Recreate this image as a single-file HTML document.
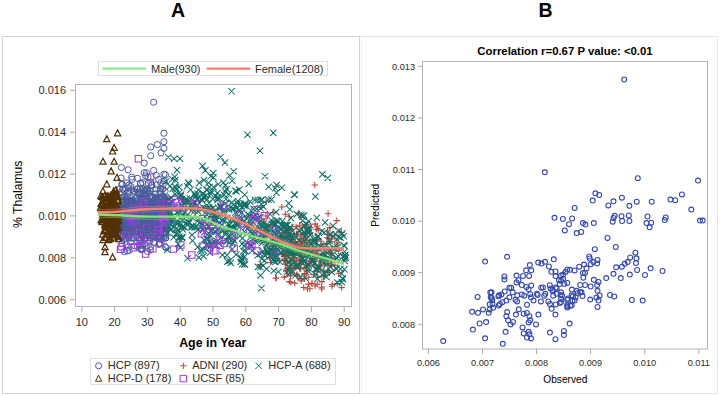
<!DOCTYPE html>
<html><head><meta charset="utf-8"><style>
html,body{margin:0;padding:0;background:#fff;}
svg{display:block;font-family:"Liberation Sans", sans-serif;}
</style></head><body>
<svg width="720" height="396" viewBox="0 0 720 396">
<rect width="720" height="396" fill="#fff"/>
<text x="178" y="17.4" font-size="19.5" font-weight="bold" text-anchor="middle" fill="#000">A</text>
<text x="545.5" y="17.4" font-size="19.5" font-weight="bold" text-anchor="middle" fill="#000">B</text>
<rect x="2.5" y="36.5" width="357" height="357" fill="none" stroke="#d2d2d2" stroke-width="1"/>
<path d="M360 36.5 H717.5 V393.5 H360" fill="none" stroke="#e4e4e4" stroke-width="1"/><path d="M361.5 36.5 V393.5" fill="none" stroke="#f2f2f2" stroke-width="1"/>
<rect x="75.5" y="84.5" width="276" height="222" fill="none" stroke="#b4b4b4" stroke-width="1"/>
<line x1="70" y1="90.3" x2="75.5" y2="90.3" stroke="#aaaaaa" stroke-width="1"/>
<text x="66" y="94.3" font-size="11" text-anchor="end" fill="#2a2a2a">0.016</text>
<line x1="70" y1="132.2" x2="75.5" y2="132.2" stroke="#aaaaaa" stroke-width="1"/>
<text x="66" y="136.2" font-size="11" text-anchor="end" fill="#2a2a2a">0.014</text>
<line x1="70" y1="174.1" x2="75.5" y2="174.1" stroke="#aaaaaa" stroke-width="1"/>
<text x="66" y="178.1" font-size="11" text-anchor="end" fill="#2a2a2a">0.012</text>
<line x1="70" y1="215.9" x2="75.5" y2="215.9" stroke="#aaaaaa" stroke-width="1"/>
<text x="66" y="219.9" font-size="11" text-anchor="end" fill="#2a2a2a">0.010</text>
<line x1="70" y1="257.8" x2="75.5" y2="257.8" stroke="#aaaaaa" stroke-width="1"/>
<text x="66" y="261.8" font-size="11" text-anchor="end" fill="#2a2a2a">0.008</text>
<line x1="70" y1="299.7" x2="75.5" y2="299.7" stroke="#aaaaaa" stroke-width="1"/>
<text x="66" y="303.7" font-size="11" text-anchor="end" fill="#2a2a2a">0.006</text>
<line x1="81.8" y1="306.5" x2="81.8" y2="312" stroke="#aaaaaa" stroke-width="1"/>
<text x="81.8" y="326" font-size="11" text-anchor="middle" fill="#2a2a2a">10</text>
<line x1="114.6" y1="306.5" x2="114.6" y2="312" stroke="#aaaaaa" stroke-width="1"/>
<text x="114.6" y="326" font-size="11" text-anchor="middle" fill="#2a2a2a">20</text>
<line x1="147.4" y1="306.5" x2="147.4" y2="312" stroke="#aaaaaa" stroke-width="1"/>
<text x="147.4" y="326" font-size="11" text-anchor="middle" fill="#2a2a2a">30</text>
<line x1="180.2" y1="306.5" x2="180.2" y2="312" stroke="#aaaaaa" stroke-width="1"/>
<text x="180.2" y="326" font-size="11" text-anchor="middle" fill="#2a2a2a">40</text>
<line x1="213.0" y1="306.5" x2="213.0" y2="312" stroke="#aaaaaa" stroke-width="1"/>
<text x="213.0" y="326" font-size="11" text-anchor="middle" fill="#2a2a2a">50</text>
<line x1="245.8" y1="306.5" x2="245.8" y2="312" stroke="#aaaaaa" stroke-width="1"/>
<text x="245.8" y="326" font-size="11" text-anchor="middle" fill="#2a2a2a">60</text>
<line x1="278.6" y1="306.5" x2="278.6" y2="312" stroke="#aaaaaa" stroke-width="1"/>
<text x="278.6" y="326" font-size="11" text-anchor="middle" fill="#2a2a2a">70</text>
<line x1="311.4" y1="306.5" x2="311.4" y2="312" stroke="#aaaaaa" stroke-width="1"/>
<text x="311.4" y="326" font-size="11" text-anchor="middle" fill="#2a2a2a">80</text>
<line x1="344.2" y1="306.5" x2="344.2" y2="312" stroke="#aaaaaa" stroke-width="1"/>
<text x="344.2" y="326" font-size="11" text-anchor="middle" fill="#2a2a2a">90</text>
<text x="212.8" y="347" font-size="12.4" font-weight="bold" text-anchor="middle" fill="#000">Age in Year</text>
<text transform="translate(22,194.3) rotate(-90)" font-size="12.2" text-anchor="middle" fill="#000">% Thalamus</text>
<rect x="98.5" y="61.5" width="229" height="14" fill="#fff" stroke="#dedede" stroke-width="1"/>
<line x1="102.5" y1="68.7" x2="146" y2="68.7" stroke="#8ee88c" stroke-width="2.2"/>
<text x="151" y="72.5" font-size="11" fill="#2a2a2a">Male(930)</text>
<line x1="206.7" y1="68.7" x2="250.3" y2="68.7" stroke="#f27e70" stroke-width="2.2"/>
<text x="255" y="72.5" font-size="11" fill="#2a2a2a">Female(1208)</text>
<g fill="none" stroke="#4a5b9c" stroke-width="1"><circle cx="140.3" cy="228.4" r="3.1"/><circle cx="142.9" cy="209.6" r="3.1"/><circle cx="127.7" cy="200.8" r="3.1"/><circle cx="123.4" cy="199.8" r="3.1"/><circle cx="123.3" cy="214.7" r="3.1"/><circle cx="165.2" cy="246.5" r="3.1"/><circle cx="147.9" cy="212.6" r="3.1"/><circle cx="119.7" cy="223.6" r="3.1"/><circle cx="130.4" cy="219.0" r="3.1"/><circle cx="140.8" cy="224.3" r="3.1"/><circle cx="149.1" cy="203.4" r="3.1"/><circle cx="150.1" cy="208.3" r="3.1"/><circle cx="165.8" cy="238.0" r="3.1"/><circle cx="152.3" cy="217.3" r="3.1"/><circle cx="122.3" cy="226.2" r="3.1"/><circle cx="137.8" cy="192.2" r="3.1"/><circle cx="158.8" cy="236.6" r="3.1"/><circle cx="128.9" cy="185.1" r="3.1"/><circle cx="165.1" cy="231.8" r="3.1"/><circle cx="155.6" cy="223.8" r="3.1"/><circle cx="123.1" cy="236.5" r="3.1"/><circle cx="124.5" cy="211.3" r="3.1"/><circle cx="123.7" cy="218.3" r="3.1"/><circle cx="145.3" cy="208.5" r="3.1"/><circle cx="128.0" cy="228.2" r="3.1"/><circle cx="124.5" cy="229.2" r="3.1"/><circle cx="129.0" cy="238.0" r="3.1"/><circle cx="133.3" cy="211.9" r="3.1"/><circle cx="128.9" cy="226.9" r="3.1"/><circle cx="123.7" cy="239.4" r="3.1"/><circle cx="131.1" cy="201.8" r="3.1"/><circle cx="134.5" cy="220.9" r="3.1"/><circle cx="146.4" cy="218.4" r="3.1"/><circle cx="147.3" cy="189.0" r="3.1"/><circle cx="141.7" cy="225.2" r="3.1"/><circle cx="159.7" cy="231.5" r="3.1"/><circle cx="157.4" cy="238.0" r="3.1"/><circle cx="127.9" cy="223.7" r="3.1"/><circle cx="163.7" cy="213.0" r="3.1"/><circle cx="147.4" cy="218.8" r="3.1"/><circle cx="164.2" cy="218.1" r="3.1"/><circle cx="152.1" cy="223.5" r="3.1"/><circle cx="132.8" cy="200.9" r="3.1"/><circle cx="152.9" cy="218.2" r="3.1"/><circle cx="159.1" cy="231.9" r="3.1"/><circle cx="132.2" cy="179.3" r="3.1"/><circle cx="119.8" cy="211.8" r="3.1"/><circle cx="127.3" cy="217.5" r="3.1"/><circle cx="145.9" cy="199.0" r="3.1"/><circle cx="165.1" cy="236.0" r="3.1"/><circle cx="151.5" cy="218.1" r="3.1"/><circle cx="119.8" cy="188.9" r="3.1"/><circle cx="164.3" cy="218.6" r="3.1"/><circle cx="148.9" cy="214.7" r="3.1"/><circle cx="166.0" cy="205.1" r="3.1"/><circle cx="144.7" cy="232.5" r="3.1"/><circle cx="152.1" cy="204.0" r="3.1"/><circle cx="162.0" cy="205.3" r="3.1"/><circle cx="159.9" cy="191.3" r="3.1"/><circle cx="156.2" cy="200.3" r="3.1"/><circle cx="137.0" cy="208.3" r="3.1"/><circle cx="147.6" cy="190.7" r="3.1"/><circle cx="160.4" cy="189.0" r="3.1"/><circle cx="137.3" cy="204.2" r="3.1"/><circle cx="158.4" cy="209.4" r="3.1"/><circle cx="154.3" cy="204.5" r="3.1"/><circle cx="129.8" cy="207.5" r="3.1"/><circle cx="142.4" cy="224.4" r="3.1"/><circle cx="119.5" cy="211.4" r="3.1"/><circle cx="150.9" cy="229.1" r="3.1"/><circle cx="150.0" cy="238.0" r="3.1"/><circle cx="160.9" cy="211.8" r="3.1"/><circle cx="139.3" cy="208.8" r="3.1"/><circle cx="162.0" cy="203.6" r="3.1"/><circle cx="133.9" cy="227.0" r="3.1"/><circle cx="142.3" cy="227.5" r="3.1"/><circle cx="163.7" cy="200.0" r="3.1"/><circle cx="126.9" cy="214.6" r="3.1"/><circle cx="138.5" cy="224.6" r="3.1"/><circle cx="142.2" cy="234.8" r="3.1"/><circle cx="140.3" cy="189.0" r="3.1"/><circle cx="120.5" cy="235.0" r="3.1"/><circle cx="145.8" cy="221.1" r="3.1"/><circle cx="156.2" cy="225.0" r="3.1"/><circle cx="120.2" cy="226.4" r="3.1"/><circle cx="130.2" cy="232.8" r="3.1"/><circle cx="140.0" cy="221.1" r="3.1"/><circle cx="149.8" cy="234.3" r="3.1"/><circle cx="128.4" cy="211.1" r="3.1"/><circle cx="127.4" cy="196.5" r="3.1"/><circle cx="127.4" cy="219.4" r="3.1"/><circle cx="135.2" cy="198.9" r="3.1"/><circle cx="154.5" cy="213.8" r="3.1"/><circle cx="156.2" cy="175.4" r="3.1"/><circle cx="162.8" cy="225.4" r="3.1"/><circle cx="148.4" cy="183.3" r="3.1"/><circle cx="145.7" cy="226.0" r="3.1"/><circle cx="156.4" cy="185.0" r="3.1"/><circle cx="149.6" cy="212.0" r="3.1"/><circle cx="149.2" cy="193.3" r="3.1"/><circle cx="129.0" cy="238.0" r="3.1"/><circle cx="144.2" cy="211.8" r="3.1"/><circle cx="134.1" cy="191.1" r="3.1"/><circle cx="135.4" cy="201.3" r="3.1"/><circle cx="155.1" cy="221.7" r="3.1"/><circle cx="120.3" cy="236.6" r="3.1"/><circle cx="127.1" cy="224.8" r="3.1"/><circle cx="156.0" cy="225.0" r="3.1"/><circle cx="153.0" cy="228.1" r="3.1"/><circle cx="151.4" cy="185.5" r="3.1"/><circle cx="163.6" cy="218.7" r="3.1"/><circle cx="132.6" cy="231.0" r="3.1"/><circle cx="149.0" cy="224.9" r="3.1"/><circle cx="133.6" cy="202.7" r="3.1"/><circle cx="158.7" cy="179.4" r="3.1"/><circle cx="159.0" cy="244.4" r="3.1"/><circle cx="145.9" cy="201.6" r="3.1"/><circle cx="147.4" cy="212.7" r="3.1"/><circle cx="164.6" cy="197.8" r="3.1"/><circle cx="145.5" cy="229.1" r="3.1"/><circle cx="151.5" cy="203.5" r="3.1"/><circle cx="164.0" cy="181.0" r="3.1"/><circle cx="141.2" cy="212.9" r="3.1"/><circle cx="139.4" cy="227.5" r="3.1"/><circle cx="133.9" cy="207.7" r="3.1"/><circle cx="148.0" cy="177.0" r="3.1"/><circle cx="155.6" cy="219.1" r="3.1"/><circle cx="151.3" cy="224.4" r="3.1"/><circle cx="135.7" cy="232.0" r="3.1"/><circle cx="124.8" cy="228.4" r="3.1"/><circle cx="130.8" cy="202.8" r="3.1"/><circle cx="136.7" cy="213.5" r="3.1"/><circle cx="143.9" cy="221.0" r="3.1"/><circle cx="149.0" cy="232.9" r="3.1"/><circle cx="159.0" cy="221.7" r="3.1"/><circle cx="153.8" cy="208.9" r="3.1"/><circle cx="161.4" cy="204.8" r="3.1"/><circle cx="129.3" cy="250.2" r="3.1"/><circle cx="125.3" cy="238.0" r="3.1"/><circle cx="153.1" cy="235.4" r="3.1"/><circle cx="138.8" cy="229.5" r="3.1"/><circle cx="124.9" cy="215.1" r="3.1"/><circle cx="128.4" cy="213.8" r="3.1"/><circle cx="161.8" cy="237.8" r="3.1"/><circle cx="142.8" cy="197.0" r="3.1"/><circle cx="127.9" cy="215.7" r="3.1"/><circle cx="124.0" cy="201.8" r="3.1"/><circle cx="145.7" cy="211.2" r="3.1"/><circle cx="127.7" cy="236.4" r="3.1"/><circle cx="162.6" cy="189.0" r="3.1"/><circle cx="121.9" cy="243.4" r="3.1"/><circle cx="154.9" cy="201.3" r="3.1"/><circle cx="139.2" cy="219.1" r="3.1"/><circle cx="119.6" cy="220.4" r="3.1"/><circle cx="140.3" cy="209.4" r="3.1"/><circle cx="138.0" cy="223.6" r="3.1"/><circle cx="119.7" cy="228.9" r="3.1"/><circle cx="156.7" cy="227.3" r="3.1"/><circle cx="138.0" cy="202.5" r="3.1"/><circle cx="142.7" cy="248.9" r="3.1"/><circle cx="131.1" cy="189.6" r="3.1"/><circle cx="155.6" cy="193.9" r="3.1"/><circle cx="160.4" cy="230.9" r="3.1"/><circle cx="155.1" cy="199.4" r="3.1"/><circle cx="122.3" cy="227.2" r="3.1"/><circle cx="141.0" cy="205.0" r="3.1"/><circle cx="148.3" cy="230.0" r="3.1"/><circle cx="163.4" cy="206.4" r="3.1"/><circle cx="145.8" cy="231.6" r="3.1"/><circle cx="137.3" cy="246.3" r="3.1"/><circle cx="152.0" cy="218.7" r="3.1"/><circle cx="147.9" cy="215.7" r="3.1"/><circle cx="131.1" cy="223.8" r="3.1"/><circle cx="136.7" cy="218.6" r="3.1"/><circle cx="130.8" cy="186.5" r="3.1"/><circle cx="142.9" cy="245.1" r="3.1"/><circle cx="165.8" cy="217.8" r="3.1"/><circle cx="147.1" cy="211.4" r="3.1"/><circle cx="121.1" cy="178.0" r="3.1"/><circle cx="141.2" cy="198.8" r="3.1"/><circle cx="121.8" cy="184.2" r="3.1"/><circle cx="143.8" cy="216.5" r="3.1"/><circle cx="136.2" cy="207.0" r="3.1"/><circle cx="132.3" cy="202.7" r="3.1"/><circle cx="132.9" cy="216.1" r="3.1"/><circle cx="126.4" cy="219.7" r="3.1"/><circle cx="137.3" cy="216.0" r="3.1"/><circle cx="165.5" cy="174.8" r="3.1"/><circle cx="161.6" cy="212.0" r="3.1"/><circle cx="141.4" cy="239.9" r="3.1"/><circle cx="143.6" cy="189.3" r="3.1"/><circle cx="141.0" cy="249.1" r="3.1"/><circle cx="147.4" cy="206.2" r="3.1"/><circle cx="128.6" cy="206.3" r="3.1"/><circle cx="143.8" cy="198.6" r="3.1"/><circle cx="140.4" cy="222.5" r="3.1"/><circle cx="146.4" cy="218.7" r="3.1"/><circle cx="165.9" cy="247.7" r="3.1"/><circle cx="130.2" cy="200.9" r="3.1"/><circle cx="161.0" cy="207.7" r="3.1"/><circle cx="131.8" cy="207.7" r="3.1"/><circle cx="145.5" cy="202.0" r="3.1"/><circle cx="127.9" cy="200.5" r="3.1"/><circle cx="165.0" cy="191.4" r="3.1"/><circle cx="120.9" cy="214.3" r="3.1"/><circle cx="148.3" cy="229.0" r="3.1"/><circle cx="144.5" cy="232.1" r="3.1"/><circle cx="144.9" cy="225.7" r="3.1"/><circle cx="136.5" cy="218.8" r="3.1"/><circle cx="154.0" cy="227.1" r="3.1"/><circle cx="122.5" cy="222.4" r="3.1"/><circle cx="155.1" cy="199.7" r="3.1"/><circle cx="138.9" cy="220.4" r="3.1"/><circle cx="149.7" cy="241.2" r="3.1"/><circle cx="144.8" cy="204.8" r="3.1"/><circle cx="162.3" cy="212.2" r="3.1"/><circle cx="160.1" cy="220.1" r="3.1"/><circle cx="122.9" cy="197.1" r="3.1"/><circle cx="133.0" cy="217.8" r="3.1"/><circle cx="122.6" cy="213.3" r="3.1"/><circle cx="133.3" cy="211.6" r="3.1"/><circle cx="151.6" cy="223.3" r="3.1"/><circle cx="153.1" cy="225.2" r="3.1"/><circle cx="124.5" cy="190.6" r="3.1"/><circle cx="163.2" cy="184.5" r="3.1"/><circle cx="156.7" cy="204.2" r="3.1"/><circle cx="133.9" cy="238.0" r="3.1"/><circle cx="130.7" cy="205.4" r="3.1"/><circle cx="136.2" cy="206.2" r="3.1"/><circle cx="128.2" cy="223.5" r="3.1"/><circle cx="156.5" cy="224.3" r="3.1"/><circle cx="127.3" cy="202.2" r="3.1"/><circle cx="160.4" cy="230.9" r="3.1"/><circle cx="144.6" cy="218.1" r="3.1"/><circle cx="164.4" cy="217.5" r="3.1"/><circle cx="144.7" cy="211.7" r="3.1"/><circle cx="123.0" cy="213.8" r="3.1"/><circle cx="123.0" cy="189.3" r="3.1"/><circle cx="125.8" cy="210.4" r="3.1"/><circle cx="129.4" cy="208.4" r="3.1"/><circle cx="143.5" cy="207.1" r="3.1"/><circle cx="164.5" cy="223.0" r="3.1"/><circle cx="142.2" cy="212.4" r="3.1"/><circle cx="162.0" cy="196.7" r="3.1"/><circle cx="157.8" cy="229.7" r="3.1"/><circle cx="158.2" cy="198.0" r="3.1"/><circle cx="164.0" cy="196.6" r="3.1"/><circle cx="156.7" cy="213.1" r="3.1"/><circle cx="138.8" cy="213.9" r="3.1"/><circle cx="136.6" cy="189.0" r="3.1"/><circle cx="128.6" cy="207.4" r="3.1"/><circle cx="121.8" cy="238.0" r="3.1"/><circle cx="124.4" cy="217.3" r="3.1"/><circle cx="121.9" cy="208.2" r="3.1"/><circle cx="146.5" cy="172.8" r="3.1"/><circle cx="124.1" cy="217.9" r="3.1"/><circle cx="152.7" cy="225.0" r="3.1"/><circle cx="129.5" cy="214.5" r="3.1"/><circle cx="154.6" cy="223.5" r="3.1"/><circle cx="144.8" cy="206.4" r="3.1"/><circle cx="160.7" cy="182.6" r="3.1"/><circle cx="144.7" cy="243.7" r="3.1"/><circle cx="129.4" cy="217.2" r="3.1"/><circle cx="163.5" cy="204.5" r="3.1"/><circle cx="143.2" cy="226.1" r="3.1"/><circle cx="165.5" cy="216.1" r="3.1"/><circle cx="141.2" cy="217.8" r="3.1"/><circle cx="156.4" cy="210.3" r="3.1"/><circle cx="126.4" cy="211.5" r="3.1"/><circle cx="131.2" cy="198.3" r="3.1"/><circle cx="165.7" cy="214.2" r="3.1"/><circle cx="144.1" cy="216.1" r="3.1"/><circle cx="157.6" cy="215.4" r="3.1"/><circle cx="157.6" cy="213.5" r="3.1"/><circle cx="123.6" cy="235.7" r="3.1"/><circle cx="141.0" cy="245.4" r="3.1"/><circle cx="159.3" cy="219.2" r="3.1"/><circle cx="162.1" cy="203.4" r="3.1"/><circle cx="157.8" cy="201.3" r="3.1"/><circle cx="126.4" cy="211.9" r="3.1"/><circle cx="133.6" cy="225.5" r="3.1"/><circle cx="141.0" cy="220.9" r="3.1"/><circle cx="135.9" cy="225.9" r="3.1"/><circle cx="140.7" cy="249.3" r="3.1"/><circle cx="149.7" cy="223.7" r="3.1"/><circle cx="136.7" cy="217.3" r="3.1"/><circle cx="140.5" cy="232.1" r="3.1"/><circle cx="165.6" cy="220.6" r="3.1"/><circle cx="132.6" cy="232.7" r="3.1"/><circle cx="144.4" cy="209.5" r="3.1"/><circle cx="150.3" cy="226.6" r="3.1"/><circle cx="128.4" cy="201.6" r="3.1"/><circle cx="145.5" cy="238.0" r="3.1"/><circle cx="134.6" cy="221.8" r="3.1"/><circle cx="123.4" cy="219.8" r="3.1"/><circle cx="152.3" cy="196.5" r="3.1"/><circle cx="146.9" cy="229.7" r="3.1"/><circle cx="129.6" cy="225.1" r="3.1"/><circle cx="122.4" cy="184.3" r="3.1"/><circle cx="143.0" cy="225.0" r="3.1"/><circle cx="155.0" cy="207.5" r="3.1"/><circle cx="138.4" cy="223.4" r="3.1"/><circle cx="137.8" cy="237.9" r="3.1"/><circle cx="150.0" cy="213.5" r="3.1"/><circle cx="119.9" cy="206.1" r="3.1"/><circle cx="124.0" cy="231.2" r="3.1"/><circle cx="142.9" cy="223.8" r="3.1"/><circle cx="126.4" cy="200.7" r="3.1"/><circle cx="161.4" cy="207.2" r="3.1"/><circle cx="125.7" cy="227.8" r="3.1"/><circle cx="165.4" cy="210.9" r="3.1"/><circle cx="128.3" cy="187.8" r="3.1"/><circle cx="128.3" cy="192.8" r="3.1"/><circle cx="130.5" cy="212.4" r="3.1"/><circle cx="162.7" cy="205.4" r="3.1"/><circle cx="140.8" cy="222.7" r="3.1"/><circle cx="161.5" cy="214.9" r="3.1"/><circle cx="145.4" cy="213.5" r="3.1"/><circle cx="165.6" cy="238.0" r="3.1"/><circle cx="147.3" cy="220.7" r="3.1"/><circle cx="161.2" cy="206.8" r="3.1"/><circle cx="146.0" cy="222.2" r="3.1"/><circle cx="122.6" cy="230.5" r="3.1"/><circle cx="127.5" cy="251.0" r="3.1"/><circle cx="149.9" cy="206.3" r="3.1"/><circle cx="136.9" cy="198.0" r="3.1"/><circle cx="156.8" cy="220.4" r="3.1"/><circle cx="125.7" cy="229.3" r="3.1"/><circle cx="145.8" cy="206.3" r="3.1"/><circle cx="145.7" cy="214.8" r="3.1"/><circle cx="149.2" cy="212.7" r="3.1"/><circle cx="164.1" cy="209.9" r="3.1"/><circle cx="141.1" cy="202.4" r="3.1"/><circle cx="154.6" cy="202.6" r="3.1"/><circle cx="141.8" cy="249.4" r="3.1"/><circle cx="159.2" cy="201.2" r="3.1"/><circle cx="161.5" cy="222.5" r="3.1"/><circle cx="143.7" cy="225.1" r="3.1"/><circle cx="121.6" cy="209.8" r="3.1"/><circle cx="161.3" cy="198.9" r="3.1"/><circle cx="133.3" cy="204.0" r="3.1"/><circle cx="122.3" cy="202.0" r="3.1"/><circle cx="137.6" cy="220.8" r="3.1"/><circle cx="151.7" cy="216.7" r="3.1"/><circle cx="137.6" cy="226.7" r="3.1"/><circle cx="122.2" cy="192.6" r="3.1"/><circle cx="150.3" cy="196.1" r="3.1"/><circle cx="129.4" cy="226.7" r="3.1"/><circle cx="145.6" cy="175.8" r="3.1"/><circle cx="156.2" cy="189.0" r="3.1"/><circle cx="119.0" cy="208.8" r="3.1"/><circle cx="133.1" cy="238.0" r="3.1"/><circle cx="157.3" cy="226.2" r="3.1"/><circle cx="135.8" cy="219.0" r="3.1"/><circle cx="161.2" cy="216.9" r="3.1"/><circle cx="142.4" cy="192.7" r="3.1"/><circle cx="141.2" cy="208.1" r="3.1"/><circle cx="161.1" cy="238.0" r="3.1"/><circle cx="158.4" cy="208.4" r="3.1"/><circle cx="160.3" cy="239.2" r="3.1"/><circle cx="148.7" cy="217.3" r="3.1"/><circle cx="160.4" cy="231.8" r="3.1"/><circle cx="133.7" cy="191.3" r="3.1"/><circle cx="152.5" cy="228.4" r="3.1"/><circle cx="151.7" cy="184.7" r="3.1"/><circle cx="122.7" cy="209.1" r="3.1"/><circle cx="128.2" cy="234.4" r="3.1"/><circle cx="130.1" cy="219.0" r="3.1"/><circle cx="150.1" cy="204.3" r="3.1"/><circle cx="146.7" cy="207.0" r="3.1"/><circle cx="150.4" cy="238.0" r="3.1"/><circle cx="149.1" cy="229.4" r="3.1"/><circle cx="143.8" cy="214.6" r="3.1"/><circle cx="121.1" cy="214.0" r="3.1"/><circle cx="156.8" cy="225.3" r="3.1"/><circle cx="132.4" cy="216.3" r="3.1"/><circle cx="144.8" cy="226.1" r="3.1"/><circle cx="161.2" cy="236.5" r="3.1"/><circle cx="140.7" cy="194.5" r="3.1"/><circle cx="142.5" cy="235.1" r="3.1"/><circle cx="145.1" cy="204.4" r="3.1"/><circle cx="155.8" cy="230.1" r="3.1"/><circle cx="142.8" cy="209.9" r="3.1"/><circle cx="163.7" cy="202.1" r="3.1"/><circle cx="155.6" cy="208.9" r="3.1"/><circle cx="139.7" cy="210.2" r="3.1"/><circle cx="156.0" cy="217.3" r="3.1"/><circle cx="129.4" cy="230.4" r="3.1"/><circle cx="142.5" cy="199.8" r="3.1"/><circle cx="145.9" cy="204.7" r="3.1"/><circle cx="127.5" cy="230.5" r="3.1"/><circle cx="139.4" cy="217.6" r="3.1"/><circle cx="131.4" cy="238.0" r="3.1"/><circle cx="145.7" cy="228.0" r="3.1"/><circle cx="156.2" cy="222.5" r="3.1"/><circle cx="121.0" cy="224.6" r="3.1"/><circle cx="148.2" cy="214.5" r="3.1"/><circle cx="123.2" cy="232.6" r="3.1"/><circle cx="127.1" cy="226.3" r="3.1"/><circle cx="158.1" cy="232.2" r="3.1"/><circle cx="121.9" cy="210.3" r="3.1"/><circle cx="164.6" cy="222.6" r="3.1"/><circle cx="142.0" cy="223.0" r="3.1"/><circle cx="140.4" cy="215.4" r="3.1"/><circle cx="120.8" cy="221.3" r="3.1"/><circle cx="137.5" cy="211.6" r="3.1"/><circle cx="138.9" cy="238.0" r="3.1"/><circle cx="154.9" cy="224.9" r="3.1"/><circle cx="129.8" cy="207.2" r="3.1"/><circle cx="140.7" cy="183.1" r="3.1"/><circle cx="134.8" cy="245.8" r="3.1"/><circle cx="120.9" cy="213.0" r="3.1"/><circle cx="149.5" cy="205.4" r="3.1"/><circle cx="159.6" cy="232.0" r="3.1"/><circle cx="160.7" cy="197.2" r="3.1"/><circle cx="136.9" cy="231.0" r="3.1"/><circle cx="129.1" cy="222.4" r="3.1"/><circle cx="126.7" cy="230.4" r="3.1"/><circle cx="129.1" cy="211.1" r="3.1"/><circle cx="165.7" cy="228.7" r="3.1"/><circle cx="159.5" cy="212.4" r="3.1"/><circle cx="151.5" cy="219.3" r="3.1"/><circle cx="131.9" cy="220.0" r="3.1"/><circle cx="137.5" cy="189.1" r="3.1"/><circle cx="131.6" cy="224.9" r="3.1"/><circle cx="126.2" cy="183.0" r="3.1"/><circle cx="155.0" cy="218.1" r="3.1"/><circle cx="134.1" cy="214.6" r="3.1"/><circle cx="122.9" cy="206.2" r="3.1"/><circle cx="143.4" cy="235.1" r="3.1"/><circle cx="137.5" cy="222.9" r="3.1"/><circle cx="147.0" cy="217.8" r="3.1"/><circle cx="133.7" cy="209.5" r="3.1"/><circle cx="152.2" cy="214.2" r="3.1"/><circle cx="153.1" cy="221.1" r="3.1"/><circle cx="132.2" cy="222.8" r="3.1"/><circle cx="138.0" cy="222.0" r="3.1"/><circle cx="132.7" cy="209.3" r="3.1"/><circle cx="129.1" cy="233.4" r="3.1"/><circle cx="145.6" cy="218.7" r="3.1"/><circle cx="164.9" cy="202.6" r="3.1"/><circle cx="129.2" cy="191.4" r="3.1"/><circle cx="150.3" cy="249.9" r="3.1"/><circle cx="130.0" cy="227.2" r="3.1"/><circle cx="137.4" cy="223.1" r="3.1"/><circle cx="137.0" cy="205.9" r="3.1"/><circle cx="126.5" cy="216.2" r="3.1"/><circle cx="141.3" cy="211.3" r="3.1"/><circle cx="123.4" cy="208.0" r="3.1"/><circle cx="138.8" cy="199.1" r="3.1"/><circle cx="145.0" cy="206.4" r="3.1"/><circle cx="120.1" cy="213.0" r="3.1"/><circle cx="138.0" cy="219.4" r="3.1"/><circle cx="142.3" cy="205.1" r="3.1"/><circle cx="130.9" cy="218.2" r="3.1"/><circle cx="135.3" cy="207.1" r="3.1"/><circle cx="150.4" cy="212.1" r="3.1"/><circle cx="141.1" cy="227.4" r="3.1"/><circle cx="146.1" cy="190.0" r="3.1"/><circle cx="148.5" cy="212.7" r="3.1"/><circle cx="138.3" cy="212.2" r="3.1"/><circle cx="160.3" cy="238.0" r="3.1"/><circle cx="161.8" cy="225.8" r="3.1"/><circle cx="133.5" cy="227.2" r="3.1"/><circle cx="164.9" cy="219.2" r="3.1"/><circle cx="151.0" cy="224.4" r="3.1"/><circle cx="119.0" cy="208.7" r="3.1"/><circle cx="142.2" cy="221.7" r="3.1"/><circle cx="144.8" cy="194.1" r="3.1"/><circle cx="164.5" cy="207.2" r="3.1"/><circle cx="135.3" cy="208.3" r="3.1"/><circle cx="151.7" cy="234.3" r="3.1"/><circle cx="164.3" cy="225.4" r="3.1"/><circle cx="142.1" cy="230.7" r="3.1"/><circle cx="136.4" cy="215.9" r="3.1"/><circle cx="130.1" cy="200.6" r="3.1"/><circle cx="134.3" cy="209.5" r="3.1"/><circle cx="122.0" cy="215.4" r="3.1"/><circle cx="123.8" cy="226.4" r="3.1"/><circle cx="155.3" cy="224.9" r="3.1"/><circle cx="126.6" cy="218.8" r="3.1"/><circle cx="130.9" cy="213.0" r="3.1"/><circle cx="156.4" cy="214.0" r="3.1"/><circle cx="152.6" cy="206.7" r="3.1"/><circle cx="134.7" cy="228.9" r="3.1"/><circle cx="145.7" cy="196.4" r="3.1"/><circle cx="152.2" cy="226.9" r="3.1"/><circle cx="124.9" cy="196.4" r="3.1"/><circle cx="150.5" cy="216.8" r="3.1"/><circle cx="146.5" cy="192.6" r="3.1"/><circle cx="125.3" cy="217.9" r="3.1"/><circle cx="138.7" cy="192.8" r="3.1"/><circle cx="165.5" cy="233.6" r="3.1"/><circle cx="152.5" cy="225.9" r="3.1"/><circle cx="153.4" cy="237.9" r="3.1"/><circle cx="134.5" cy="218.7" r="3.1"/><circle cx="144.5" cy="208.5" r="3.1"/><circle cx="156.6" cy="223.7" r="3.1"/><circle cx="132.3" cy="200.3" r="3.1"/><circle cx="165.1" cy="201.6" r="3.1"/><circle cx="151.6" cy="218.2" r="3.1"/><circle cx="127.2" cy="209.3" r="3.1"/><circle cx="162.9" cy="209.7" r="3.1"/><circle cx="134.2" cy="216.5" r="3.1"/><circle cx="145.6" cy="208.9" r="3.1"/><circle cx="129.7" cy="208.9" r="3.1"/><circle cx="136.2" cy="220.3" r="3.1"/><circle cx="161.0" cy="217.4" r="3.1"/><circle cx="122.7" cy="189.0" r="3.1"/><circle cx="128.5" cy="220.4" r="3.1"/><circle cx="141.8" cy="220.4" r="3.1"/><circle cx="121.7" cy="204.2" r="3.1"/><circle cx="149.9" cy="211.0" r="3.1"/><circle cx="159.6" cy="243.1" r="3.1"/><circle cx="158.2" cy="238.0" r="3.1"/><circle cx="127.3" cy="219.1" r="3.1"/><circle cx="122.5" cy="221.5" r="3.1"/><circle cx="154.4" cy="214.2" r="3.1"/><circle cx="128.9" cy="236.2" r="3.1"/><circle cx="143.8" cy="215.8" r="3.1"/><circle cx="156.2" cy="197.8" r="3.1"/><circle cx="157.9" cy="229.3" r="3.1"/><circle cx="165.3" cy="228.1" r="3.1"/><circle cx="152.1" cy="212.1" r="3.1"/><circle cx="161.8" cy="208.0" r="3.1"/><circle cx="137.3" cy="211.8" r="3.1"/><circle cx="149.9" cy="204.2" r="3.1"/><circle cx="135.6" cy="229.4" r="3.1"/><circle cx="161.5" cy="225.4" r="3.1"/><circle cx="153.9" cy="222.3" r="3.1"/><circle cx="153.9" cy="212.7" r="3.1"/><circle cx="124.0" cy="208.9" r="3.1"/><circle cx="135.5" cy="230.7" r="3.1"/><circle cx="138.0" cy="216.9" r="3.1"/><circle cx="144.2" cy="239.3" r="3.1"/><circle cx="160.4" cy="216.2" r="3.1"/><circle cx="165.4" cy="210.0" r="3.1"/><circle cx="164.2" cy="199.6" r="3.1"/><circle cx="127.4" cy="226.7" r="3.1"/><circle cx="150.8" cy="182.2" r="3.1"/><circle cx="127.6" cy="223.1" r="3.1"/><circle cx="148.8" cy="215.5" r="3.1"/><circle cx="149.3" cy="196.5" r="3.1"/><circle cx="159.2" cy="198.6" r="3.1"/><circle cx="142.7" cy="234.0" r="3.1"/><circle cx="151.4" cy="231.7" r="3.1"/><circle cx="150.3" cy="209.2" r="3.1"/><circle cx="147.2" cy="222.0" r="3.1"/><circle cx="143.2" cy="206.5" r="3.1"/><circle cx="146.9" cy="206.2" r="3.1"/><circle cx="162.8" cy="189.0" r="3.1"/><circle cx="153.7" cy="223.7" r="3.1"/><circle cx="153.6" cy="242.4" r="3.1"/><circle cx="159.8" cy="230.5" r="3.1"/><circle cx="130.0" cy="215.1" r="3.1"/><circle cx="149.5" cy="190.8" r="3.1"/><circle cx="156.5" cy="220.6" r="3.1"/><circle cx="159.9" cy="215.8" r="3.1"/><circle cx="130.8" cy="201.1" r="3.1"/><circle cx="159.7" cy="220.4" r="3.1"/><circle cx="132.1" cy="230.2" r="3.1"/><circle cx="156.0" cy="223.1" r="3.1"/><circle cx="130.4" cy="229.2" r="3.1"/><circle cx="144.8" cy="190.3" r="3.1"/><circle cx="126.1" cy="199.1" r="3.1"/><circle cx="123.7" cy="201.8" r="3.1"/><circle cx="158.2" cy="236.6" r="3.1"/><circle cx="127.5" cy="226.1" r="3.1"/><circle cx="161.4" cy="201.9" r="3.1"/><circle cx="165.4" cy="198.4" r="3.1"/><circle cx="153.2" cy="197.4" r="3.1"/><circle cx="150.4" cy="227.3" r="3.1"/><circle cx="133.8" cy="217.1" r="3.1"/><circle cx="132.1" cy="213.3" r="3.1"/><circle cx="125.0" cy="208.6" r="3.1"/><circle cx="140.9" cy="238.0" r="3.1"/><circle cx="147.7" cy="235.8" r="3.1"/><circle cx="128.2" cy="247.1" r="3.1"/><circle cx="153.6" cy="211.3" r="3.1"/><circle cx="125.9" cy="227.9" r="3.1"/><circle cx="139.0" cy="204.4" r="3.1"/><circle cx="142.8" cy="182.7" r="3.1"/><circle cx="152.1" cy="223.5" r="3.1"/><circle cx="146.2" cy="223.2" r="3.1"/><circle cx="159.2" cy="208.6" r="3.1"/><circle cx="140.4" cy="183.6" r="3.1"/><circle cx="153.9" cy="211.7" r="3.1"/><circle cx="138.7" cy="217.5" r="3.1"/><circle cx="139.7" cy="240.7" r="3.1"/><circle cx="151.7" cy="216.4" r="3.1"/><circle cx="125.2" cy="228.9" r="3.1"/><circle cx="130.8" cy="203.4" r="3.1"/><circle cx="159.0" cy="235.4" r="3.1"/><circle cx="144.7" cy="220.3" r="3.1"/><circle cx="136.1" cy="212.7" r="3.1"/><circle cx="153.0" cy="201.1" r="3.1"/><circle cx="163.6" cy="238.0" r="3.1"/><circle cx="148.8" cy="207.0" r="3.1"/><circle cx="133.9" cy="226.7" r="3.1"/><circle cx="147.5" cy="251.6" r="3.1"/><circle cx="165.7" cy="224.6" r="3.1"/><circle cx="151.9" cy="237.1" r="3.1"/><circle cx="140.7" cy="200.1" r="3.1"/><circle cx="149.8" cy="224.6" r="3.1"/><circle cx="136.4" cy="215.4" r="3.1"/><circle cx="137.5" cy="222.5" r="3.1"/><circle cx="149.5" cy="219.8" r="3.1"/><circle cx="153.9" cy="223.6" r="3.1"/><circle cx="155.5" cy="197.2" r="3.1"/><circle cx="141.0" cy="235.1" r="3.1"/><circle cx="161.1" cy="192.8" r="3.1"/><circle cx="135.5" cy="210.1" r="3.1"/><circle cx="156.1" cy="214.7" r="3.1"/><circle cx="142.8" cy="210.0" r="3.1"/><circle cx="123.2" cy="213.3" r="3.1"/><circle cx="132.8" cy="216.3" r="3.1"/><circle cx="121.6" cy="228.9" r="3.1"/><circle cx="140.2" cy="192.4" r="3.1"/><circle cx="123.9" cy="222.2" r="3.1"/><circle cx="126.3" cy="244.4" r="3.1"/><circle cx="153.6" cy="102.2" r="3.1"/><circle cx="163.9" cy="133.2" r="3.1"/><circle cx="163.9" cy="141.7" r="3.1"/><circle cx="157.4" cy="144.6" r="3.1"/><circle cx="150.7" cy="147.0" r="3.1"/><circle cx="163.9" cy="148.4" r="3.1"/><circle cx="161.0" cy="152.8" r="3.1"/><circle cx="150.7" cy="155.8" r="3.1"/><circle cx="144.2" cy="163.1" r="3.1"/><circle cx="121.4" cy="167.5" r="3.1"/><circle cx="128.1" cy="169.8" r="3.1"/><circle cx="144.2" cy="172.8" r="3.1"/><circle cx="153.6" cy="170.4" r="3.1"/><circle cx="163.9" cy="174.2" r="3.1"/><circle cx="131.7" cy="177.1" r="3.1"/><circle cx="137.5" cy="178.3" r="3.1"/><circle cx="124.4" cy="251.6" r="3.1"/><circle cx="150.8" cy="246.8" r="3.1"/></g>
<path fill="none" stroke="#b34a3e" stroke-width="1.05" d="M292.8 226.6h6.4M296.0 223.4v6.4M331.3 235.7h6.4M334.5 232.5v6.4M293.2 260.3h6.4M296.4 257.1v6.4M315.8 255.0h6.4M319.0 251.8v6.4M309.9 251.5h6.4M313.1 248.3v6.4M298.8 243.2h6.4M302.0 240.0v6.4M262.7 253.3h6.4M265.9 250.1v6.4M331.7 265.1h6.4M334.9 261.9v6.4M304.5 255.8h6.4M307.7 252.6v6.4M293.3 247.1h6.4M296.5 243.9v6.4M269.8 244.3h6.4M273.0 241.1v6.4M325.1 263.4h6.4M328.3 260.2v6.4M288.7 226.6h6.4M291.9 223.4v6.4M321.7 256.8h6.4M324.9 253.6v6.4M328.6 238.9h6.4M331.8 235.7v6.4M323.4 247.6h6.4M326.6 244.4v6.4M292.2 242.8h6.4M295.4 239.6v6.4M284.5 273.7h6.4M287.7 270.5v6.4M290.8 234.0h6.4M294.0 230.8v6.4M290.3 258.1h6.4M293.5 254.9v6.4M294.0 246.4h6.4M297.2 243.2v6.4M317.1 256.1h6.4M320.3 252.9v6.4M267.8 224.4h6.4M271.0 221.2v6.4M292.5 247.3h6.4M295.7 244.1v6.4M282.2 260.6h6.4M285.4 257.4v6.4M287.9 258.6h6.4M291.1 255.4v6.4M296.6 255.2h6.4M299.8 252.0v6.4M296.7 278.4h6.4M299.9 275.2v6.4M257.9 206.9h6.4M261.1 203.7v6.4M257.2 264.5h6.4M260.4 261.3v6.4M301.9 267.5h6.4M305.1 264.3v6.4M302.1 249.0h6.4M305.3 245.8v6.4M290.9 243.5h6.4M294.1 240.3v6.4M301.7 273.4h6.4M304.9 270.2v6.4M287.9 230.4h6.4M291.1 227.2v6.4M311.2 254.1h6.4M314.4 250.9v6.4M266.6 254.1h6.4M269.8 250.9v6.4M285.2 255.6h6.4M288.4 252.4v6.4M314.1 225.9h6.4M317.3 222.7v6.4M292.6 265.2h6.4M295.8 262.0v6.4M286.2 246.3h6.4M289.4 243.1v6.4M335.5 250.8h6.4M338.7 247.6v6.4M316.8 248.0h6.4M320.0 244.8v6.4M315.9 266.8h6.4M319.1 263.6v6.4M313.5 250.7h6.4M316.7 247.5v6.4M311.8 249.7h6.4M315.0 246.5v6.4M265.9 229.4h6.4M269.1 226.2v6.4M326.1 241.4h6.4M329.3 238.2v6.4M304.3 289.0h6.4M307.5 285.8v6.4M311.1 259.1h6.4M314.3 255.9v6.4M301.2 278.7h6.4M304.4 275.5v6.4M293.4 252.0h6.4M296.6 248.8v6.4M306.6 288.7h6.4M309.8 285.5v6.4M269.4 241.0h6.4M272.6 237.8v6.4M313.1 229.2h6.4M316.3 226.0v6.4M291.4 260.3h6.4M294.6 257.1v6.4M294.9 244.1h6.4M298.1 240.9v6.4M288.2 252.8h6.4M291.4 249.6v6.4M309.9 260.8h6.4M313.1 257.6v6.4M317.0 258.0h6.4M320.2 254.8v6.4M305.8 245.7h6.4M309.0 242.5v6.4M273.9 243.6h6.4M277.1 240.4v6.4M287.6 269.2h6.4M290.8 266.0v6.4M325.5 249.8h6.4M328.7 246.6v6.4M281.4 230.8h6.4M284.6 227.6v6.4M317.4 264.8h6.4M320.6 261.6v6.4M274.4 258.7h6.4M277.6 255.5v6.4M263.2 230.1h6.4M266.4 226.9v6.4M294.1 234.1h6.4M297.3 230.9v6.4M326.2 272.4h6.4M329.4 269.2v6.4M297.0 246.1h6.4M300.2 242.9v6.4M312.9 239.3h6.4M316.1 236.1v6.4M272.7 245.1h6.4M275.9 241.9v6.4M301.5 243.0h6.4M304.7 239.8v6.4M280.7 242.3h6.4M283.9 239.1v6.4M289.9 258.0h6.4M293.1 254.8v6.4M301.8 236.9h6.4M305.0 233.7v6.4M300.9 250.5h6.4M304.1 247.3v6.4M317.7 241.3h6.4M320.9 238.1v6.4M296.4 268.4h6.4M299.6 265.2v6.4M334.6 245.2h6.4M337.8 242.0v6.4M282.9 270.1h6.4M286.1 266.9v6.4M284.7 246.2h6.4M287.9 243.0v6.4M284.4 227.9h6.4M287.6 224.7v6.4M268.1 251.4h6.4M271.3 248.2v6.4M308.8 239.6h6.4M312.0 236.4v6.4M294.1 236.1h6.4M297.3 232.9v6.4M333.6 242.9h6.4M336.8 239.7v6.4M324.0 237.7h6.4M327.2 234.5v6.4M282.7 253.3h6.4M285.9 250.1v6.4M311.1 264.8h6.4M314.3 261.6v6.4M318.1 262.9h6.4M321.3 259.7v6.4M263.8 236.6h6.4M267.0 233.4v6.4M299.8 232.7h6.4M303.0 229.5v6.4M288.9 272.7h6.4M292.1 269.5v6.4M311.9 285.9h6.4M315.1 282.7v6.4M314.8 277.2h6.4M318.0 274.0v6.4M281.9 264.2h6.4M285.1 261.0v6.4M280.5 226.2h6.4M283.7 223.0v6.4M274.2 241.2h6.4M277.4 238.0v6.4M311.9 224.1h6.4M315.1 220.9v6.4M325.7 238.7h6.4M328.9 235.5v6.4M307.1 227.5h6.4M310.3 224.3v6.4M308.9 283.2h6.4M312.1 280.0v6.4M286.5 265.4h6.4M289.7 262.2v6.4M284.9 228.7h6.4M288.1 225.5v6.4M283.9 268.3h6.4M287.1 265.1v6.4M284.2 251.2h6.4M287.4 248.0v6.4M286.6 249.1h6.4M289.8 245.9v6.4M296.6 260.4h6.4M299.8 257.2v6.4M285.4 246.1h6.4M288.6 242.9v6.4M297.7 264.7h6.4M300.9 261.5v6.4M320.4 272.0h6.4M323.6 268.8v6.4M318.7 281.6h6.4M321.9 278.4v6.4M302.7 227.7h6.4M305.9 224.5v6.4M298.9 245.2h6.4M302.1 242.0v6.4M305.5 277.3h6.4M308.7 274.1v6.4M284.6 235.3h6.4M287.8 232.1v6.4M266.8 258.0h6.4M270.0 254.8v6.4M313.5 248.2h6.4M316.7 245.0v6.4M282.9 233.6h6.4M286.1 230.4v6.4M309.6 258.1h6.4M312.8 254.9v6.4M328.2 235.3h6.4M331.4 232.1v6.4M289.8 249.4h6.4M293.0 246.2v6.4M282.8 255.6h6.4M286.0 252.4v6.4M327.8 253.6h6.4M331.0 250.4v6.4M305.3 284.1h6.4M308.5 280.9v6.4M272.3 260.5h6.4M275.5 257.3v6.4M300.5 287.5h6.4M303.7 284.3v6.4M287.6 282.3h6.4M290.8 279.1v6.4M320.3 277.0h6.4M323.5 273.8v6.4M268.6 253.4h6.4M271.8 250.2v6.4M262.9 201.8h6.4M266.1 198.6v6.4M306.9 233.6h6.4M310.1 230.4v6.4M318.8 259.0h6.4M322.0 255.8v6.4M269.7 225.8h6.4M272.9 222.6v6.4M298.6 260.0h6.4M301.8 256.8v6.4M290.1 268.2h6.4M293.3 265.0v6.4M297.3 260.2h6.4M300.5 257.0v6.4M293.4 274.7h6.4M296.6 271.5v6.4M296.7 268.2h6.4M299.9 265.0v6.4M300.1 261.2h6.4M303.3 258.0v6.4M332.9 248.6h6.4M336.1 245.4v6.4M287.1 246.2h6.4M290.3 243.0v6.4M289.1 238.7h6.4M292.3 235.5v6.4M333.6 220.6h6.4M336.8 217.4v6.4M329.1 284.4h6.4M332.3 281.2v6.4M327.0 241.6h6.4M330.2 238.4v6.4M260.9 221.1h6.4M264.1 217.9v6.4M306.9 254.7h6.4M310.1 251.5v6.4M302.9 224.6h6.4M306.1 221.4v6.4M270.7 220.8h6.4M273.9 217.6v6.4M298.2 256.1h6.4M301.4 252.9v6.4M273.3 244.7h6.4M276.5 241.5v6.4M320.0 258.4h6.4M323.2 255.2v6.4M263.3 242.1h6.4M266.5 238.9v6.4M316.7 247.2h6.4M319.9 244.0v6.4M301.2 234.6h6.4M304.4 231.4v6.4M311.4 254.1h6.4M314.6 250.9v6.4M268.6 243.9h6.4M271.8 240.7v6.4M314.0 284.1h6.4M317.2 280.9v6.4M292.9 246.3h6.4M296.1 243.1v6.4M289.1 248.4h6.4M292.3 245.2v6.4M312.3 256.3h6.4M315.5 253.1v6.4M284.8 232.0h6.4M288.0 228.8v6.4M289.1 239.9h6.4M292.3 236.7v6.4M306.3 242.0h6.4M309.5 238.8v6.4M321.2 258.4h6.4M324.4 255.2v6.4M278.8 254.4h6.4M282.0 251.2v6.4M296.3 261.8h6.4M299.5 258.6v6.4M313.2 248.2h6.4M316.4 245.0v6.4M305.1 263.3h6.4M308.3 260.1v6.4M284.6 236.6h6.4M287.8 233.4v6.4M320.7 253.3h6.4M323.9 250.1v6.4M279.4 248.9h6.4M282.6 245.7v6.4M288.7 263.3h6.4M291.9 260.1v6.4M309.4 240.6h6.4M312.6 237.4v6.4M299.2 227.2h6.4M302.4 224.0v6.4M269.8 245.8h6.4M273.0 242.6v6.4M281.8 236.1h6.4M285.0 232.9v6.4M293.2 266.4h6.4M296.4 263.2v6.4M290.2 249.3h6.4M293.4 246.1v6.4M324.2 271.3h6.4M327.4 268.1v6.4M275.5 245.4h6.4M278.7 242.2v6.4M313.6 257.1h6.4M316.8 253.9v6.4M313.7 239.9h6.4M316.9 236.7v6.4M291.4 245.6h6.4M294.6 242.4v6.4M310.4 274.6h6.4M313.6 271.4v6.4M296.2 252.9h6.4M299.4 249.7v6.4M297.3 249.6h6.4M300.5 246.4v6.4M291.5 283.1h6.4M294.7 279.9v6.4M276.2 260.6h6.4M279.4 257.4v6.4M281.0 277.1h6.4M284.2 273.9v6.4M326.6 227.6h6.4M329.8 224.4v6.4M289.4 258.1h6.4M292.6 254.9v6.4M308.7 249.8h6.4M311.9 246.6v6.4M328.5 259.1h6.4M331.7 255.9v6.4M306.5 261.3h6.4M309.7 258.1v6.4M321.3 249.4h6.4M324.5 246.2v6.4M295.1 212.9h6.4M298.3 209.7v6.4M291.1 259.8h6.4M294.3 256.6v6.4M327.5 264.7h6.4M330.7 261.5v6.4M269.0 250.5h6.4M272.2 247.3v6.4M266.1 257.4h6.4M269.3 254.2v6.4M287.4 252.9h6.4M290.6 249.7v6.4M298.6 259.7h6.4M301.8 256.5v6.4M299.2 227.6h6.4M302.4 224.4v6.4M298.6 241.0h6.4M301.8 237.8v6.4M328.7 266.0h6.4M331.9 262.8v6.4M269.6 250.3h6.4M272.8 247.1v6.4M287.6 252.0h6.4M290.8 248.8v6.4M297.5 215.8h6.4M300.7 212.6v6.4M277.6 236.8h6.4M280.8 233.6v6.4M286.7 267.5h6.4M289.9 264.3v6.4M313.9 271.7h6.4M317.1 268.5v6.4M302.4 249.7h6.4M305.6 246.5v6.4M318.0 244.5h6.4M321.2 241.3v6.4M328.2 258.3h6.4M331.4 255.1v6.4M334.0 283.6h6.4M337.2 280.4v6.4M292.5 255.0h6.4M295.7 251.8v6.4M266.5 249.0h6.4M269.7 245.8v6.4M310.0 262.1h6.4M313.2 258.9v6.4M281.4 259.1h6.4M284.6 255.9v6.4M314.3 255.6h6.4M317.5 252.4v6.4M297.3 241.8h6.4M300.5 238.6v6.4M279.3 232.7h6.4M282.5 229.5v6.4M259.7 240.6h6.4M262.9 237.4v6.4M284.6 253.2h6.4M287.8 250.0v6.4M303.2 240.5h6.4M306.4 237.3v6.4M303.5 266.1h6.4M306.7 262.9v6.4M288.0 229.1h6.4M291.2 225.9v6.4M301.2 278.6h6.4M304.4 275.4v6.4M293.3 233.9h6.4M296.5 230.7v6.4M288.9 245.5h6.4M292.1 242.3v6.4M324.5 259.5h6.4M327.7 256.3v6.4M318.6 289.0h6.4M321.8 285.8v6.4M321.2 265.1h6.4M324.4 261.9v6.4M335.6 273.2h6.4M338.8 270.0v6.4M286.4 261.4h6.4M289.6 258.2v6.4M283.0 270.9h6.4M286.2 267.7v6.4M301.4 273.9h6.4M304.6 270.7v6.4M286.1 281.6h6.4M289.3 278.4v6.4M271.8 239.7h6.4M275.0 236.5v6.4M300.1 238.8h6.4M303.3 235.6v6.4M297.2 269.0h6.4M300.4 265.8v6.4M291.4 241.6h6.4M294.6 238.4v6.4M254.4 228.0h6.4M257.6 224.8v6.4M300.9 252.8h6.4M304.1 249.6v6.4M303.9 246.2h6.4M307.1 243.0v6.4M297.2 253.7h6.4M300.4 250.5v6.4M296.5 225.2h6.4M299.7 222.0v6.4M285.9 216.2h6.4M289.1 213.0v6.4M294.6 276.2h6.4M297.8 273.0v6.4M283.0 262.9h6.4M286.2 259.7v6.4M316.6 258.2h6.4M319.8 255.0v6.4M323.3 243.7h6.4M326.5 240.5v6.4M297.5 233.9h6.4M300.7 230.7v6.4M328.5 265.2h6.4M331.7 262.0v6.4M296.8 238.8h6.4M300.0 235.6v6.4M317.6 256.1h6.4M320.8 252.9v6.4M297.4 246.3h6.4M300.6 243.1v6.4M281.6 256.8h6.4M284.8 253.6v6.4M317.0 269.2h6.4M320.2 266.0v6.4M324.9 213.7h6.4M328.1 210.5v6.4M306.9 260.7h6.4M310.1 257.5v6.4M315.1 230.2h6.4M318.3 227.0v6.4M314.5 267.4h6.4M317.7 264.2v6.4M287.2 275.7h6.4M290.4 272.5v6.4M283.6 251.5h6.4M286.8 248.3v6.4M297.9 250.5h6.4M301.1 247.3v6.4M289.5 255.7h6.4M292.7 252.5v6.4M324.2 234.3h6.4M327.4 231.1v6.4M326.7 252.2h6.4M329.9 249.0v6.4M305.9 248.6h6.4M309.1 245.4v6.4M273.1 277.9h6.4M276.3 274.7v6.4M287.7 245.9h6.4M290.9 242.7v6.4M279.5 238.1h6.4M282.7 234.9v6.4M335.8 231.7h6.4M339.0 228.5v6.4M303.4 271.0h6.4M306.6 267.8v6.4M267.4 262.4h6.4M270.6 259.2v6.4M311.6 185.0h6.4M314.8 181.8v6.4M338.4 232.5h6.4M341.6 229.3v6.4M338.4 287.6h6.4M341.6 284.4v6.4M328.8 286.2h6.4M332.0 283.0v6.4M318.4 287.1h6.4M321.6 283.9v6.4M308.6 283.6h6.4M311.8 280.4v6.4M298.0 281.0h6.4M301.2 277.8v6.4M272.4 278.3h6.4M275.6 275.1v6.4M278.6 207.0h6.4M281.8 203.8v6.4M282.1 214.2h6.4M285.3 211.0v6.4M269.8 212.4h6.4M273.0 209.2v6.4M262.7 216.0h6.4M265.9 212.8v6.4M324.5 231.0h6.4M327.7 227.8v6.4"/>
<path fill="none" stroke="#0f6e66" stroke-width="1.05" d="M319.0 257.0l6.4 6.4M319.0 263.4l6.4 -6.4M265.2 196.4l6.4 6.4M265.2 202.8l6.4 -6.4M277.8 225.3l6.4 6.4M277.8 231.7l6.4 -6.4M166.9 220.5l6.4 6.4M166.9 226.9l6.4 -6.4M306.0 228.3l6.4 6.4M306.0 234.7l6.4 -6.4M287.8 215.0l6.4 6.4M287.8 221.4l6.4 -6.4M219.7 227.7l6.4 6.4M219.7 234.1l6.4 -6.4M286.3 264.7l6.4 6.4M286.3 271.1l6.4 -6.4M222.3 231.3l6.4 6.4M222.3 237.7l6.4 -6.4M334.2 243.8l6.4 6.4M334.2 250.2l6.4 -6.4M222.8 196.0l6.4 6.4M222.8 202.4l6.4 -6.4M169.2 205.1l6.4 6.4M169.2 211.5l6.4 -6.4M259.2 230.3l6.4 6.4M259.2 236.7l6.4 -6.4M198.7 196.5l6.4 6.4M198.7 202.9l6.4 -6.4M206.2 219.1l6.4 6.4M206.2 225.5l6.4 -6.4M226.8 221.7l6.4 6.4M226.8 228.1l6.4 -6.4M333.6 236.2l6.4 6.4M333.6 242.6l6.4 -6.4M205.2 223.3l6.4 6.4M205.2 229.7l6.4 -6.4M335.4 227.7l6.4 6.4M335.4 234.1l6.4 -6.4M300.0 255.3l6.4 6.4M300.0 261.7l6.4 -6.4M278.2 249.6l6.4 6.4M278.2 256.0l6.4 -6.4M260.2 223.0l6.4 6.4M260.2 229.4l6.4 -6.4M257.8 230.8l6.4 6.4M257.8 237.2l6.4 -6.4M189.9 203.5l6.4 6.4M189.9 209.9l6.4 -6.4M211.9 212.5l6.4 6.4M211.9 218.9l6.4 -6.4M300.9 228.9l6.4 6.4M300.9 235.3l6.4 -6.4M289.9 233.6l6.4 6.4M289.9 240.0l6.4 -6.4M248.3 230.1l6.4 6.4M248.3 236.5l6.4 -6.4M322.7 262.1l6.4 6.4M322.7 268.5l6.4 -6.4M287.8 247.0l6.4 6.4M287.8 253.4l6.4 -6.4M185.8 180.7l6.4 6.4M185.8 187.1l6.4 -6.4M235.3 207.5l6.4 6.4M235.3 213.9l6.4 -6.4M285.4 267.6l6.4 6.4M285.4 274.0l6.4 -6.4M185.9 218.8l6.4 6.4M185.9 225.2l6.4 -6.4M248.1 243.1l6.4 6.4M248.1 249.5l6.4 -6.4M247.1 234.2l6.4 6.4M247.1 240.6l6.4 -6.4M250.4 205.7l6.4 6.4M250.4 212.1l6.4 -6.4M184.4 255.1l6.4 6.4M184.4 261.5l6.4 -6.4M202.6 192.4l6.4 6.4M202.6 198.8l6.4 -6.4M234.6 220.1l6.4 6.4M234.6 226.5l6.4 -6.4M209.1 208.7l6.4 6.4M209.1 215.1l6.4 -6.4M228.6 199.4l6.4 6.4M228.6 205.8l6.4 -6.4M244.3 211.0l6.4 6.4M244.3 217.4l6.4 -6.4M217.5 202.6l6.4 6.4M217.5 209.0l6.4 -6.4M244.7 240.1l6.4 6.4M244.7 246.5l6.4 -6.4M230.5 205.6l6.4 6.4M230.5 212.0l6.4 -6.4M235.1 220.4l6.4 6.4M235.1 226.8l6.4 -6.4M280.8 223.6l6.4 6.4M280.8 230.0l6.4 -6.4M241.1 228.4l6.4 6.4M241.1 234.8l6.4 -6.4M259.8 262.6l6.4 6.4M259.8 269.0l6.4 -6.4M224.3 238.1l6.4 6.4M224.3 244.5l6.4 -6.4M300.7 246.3l6.4 6.4M300.7 252.7l6.4 -6.4M273.2 189.4l6.4 6.4M273.2 195.8l6.4 -6.4M198.2 248.2l6.4 6.4M198.2 254.6l6.4 -6.4M173.6 225.1l6.4 6.4M173.6 231.5l6.4 -6.4M233.2 188.1l6.4 6.4M233.2 194.5l6.4 -6.4M291.0 241.2l6.4 6.4M291.0 247.6l6.4 -6.4M208.1 188.4l6.4 6.4M208.1 194.8l6.4 -6.4M263.8 242.6l6.4 6.4M263.8 249.0l6.4 -6.4M303.3 244.3l6.4 6.4M303.3 250.7l6.4 -6.4M212.2 192.8l6.4 6.4M212.2 199.2l6.4 -6.4M192.9 206.4l6.4 6.4M192.9 212.8l6.4 -6.4M323.6 242.1l6.4 6.4M323.6 248.5l6.4 -6.4M238.4 255.8l6.4 6.4M238.4 262.2l6.4 -6.4M271.9 185.1l6.4 6.4M271.9 191.5l6.4 -6.4M265.3 222.6l6.4 6.4M265.3 229.0l6.4 -6.4M226.3 233.3l6.4 6.4M226.3 239.7l6.4 -6.4M287.3 247.7l6.4 6.4M287.3 254.1l6.4 -6.4M311.9 245.0l6.4 6.4M311.9 251.4l6.4 -6.4M259.5 248.2l6.4 6.4M259.5 254.6l6.4 -6.4M230.2 229.8l6.4 6.4M230.2 236.2l6.4 -6.4M207.8 227.3l6.4 6.4M207.8 233.7l6.4 -6.4M184.0 218.5l6.4 6.4M184.0 224.9l6.4 -6.4M210.4 184.0l6.4 6.4M210.4 190.4l6.4 -6.4M288.0 256.0l6.4 6.4M288.0 262.4l6.4 -6.4M200.8 176.9l6.4 6.4M200.8 183.3l6.4 -6.4M288.7 250.3l6.4 6.4M288.7 256.7l6.4 -6.4M248.1 217.2l6.4 6.4M248.1 223.6l6.4 -6.4M242.3 200.6l6.4 6.4M242.3 207.0l6.4 -6.4M340.5 242.3l6.4 6.4M340.5 248.7l6.4 -6.4M202.9 241.9l6.4 6.4M202.9 248.3l6.4 -6.4M224.2 258.4l6.4 6.4M224.2 264.8l6.4 -6.4M240.4 247.8l6.4 6.4M240.4 254.2l6.4 -6.4M193.7 195.6l6.4 6.4M193.7 202.0l6.4 -6.4M290.0 268.6l6.4 6.4M290.0 275.0l6.4 -6.4M203.6 186.1l6.4 6.4M203.6 192.5l6.4 -6.4M204.0 241.5l6.4 6.4M204.0 247.9l6.4 -6.4M174.1 217.7l6.4 6.4M174.1 224.1l6.4 -6.4M260.6 235.9l6.4 6.4M260.6 242.3l6.4 -6.4M226.4 222.2l6.4 6.4M226.4 228.6l6.4 -6.4M270.8 243.3l6.4 6.4M270.8 249.7l6.4 -6.4M166.6 211.7l6.4 6.4M166.6 218.1l6.4 -6.4M194.6 195.6l6.4 6.4M194.6 202.0l6.4 -6.4M220.8 191.7l6.4 6.4M220.8 198.1l6.4 -6.4M214.8 204.5l6.4 6.4M214.8 210.9l6.4 -6.4M207.6 228.2l6.4 6.4M207.6 234.6l6.4 -6.4M209.8 204.8l6.4 6.4M209.8 211.2l6.4 -6.4M211.2 238.8l6.4 6.4M211.2 245.2l6.4 -6.4M315.1 233.1l6.4 6.4M315.1 239.5l6.4 -6.4M322.5 248.5l6.4 6.4M322.5 254.9l6.4 -6.4M274.9 229.4l6.4 6.4M274.9 235.8l6.4 -6.4M237.2 201.0l6.4 6.4M237.2 207.4l6.4 -6.4M253.5 205.8l6.4 6.4M253.5 212.2l6.4 -6.4M203.1 208.2l6.4 6.4M203.1 214.6l6.4 -6.4M217.0 224.1l6.4 6.4M217.0 230.5l6.4 -6.4M214.2 189.8l6.4 6.4M214.2 196.2l6.4 -6.4M285.9 239.6l6.4 6.4M285.9 246.0l6.4 -6.4M234.3 200.2l6.4 6.4M234.3 206.6l6.4 -6.4M176.2 233.4l6.4 6.4M176.2 239.8l6.4 -6.4M255.5 225.0l6.4 6.4M255.5 231.4l6.4 -6.4M318.0 255.9l6.4 6.4M318.0 262.3l6.4 -6.4M341.6 252.1l6.4 6.4M341.6 258.5l6.4 -6.4M189.5 204.1l6.4 6.4M189.5 210.5l6.4 -6.4M264.0 225.8l6.4 6.4M264.0 232.2l6.4 -6.4M241.2 202.6l6.4 6.4M241.2 209.0l6.4 -6.4M194.0 196.4l6.4 6.4M194.0 202.8l6.4 -6.4M324.9 253.9l6.4 6.4M324.9 260.3l6.4 -6.4M260.6 251.1l6.4 6.4M260.6 257.5l6.4 -6.4M266.8 246.8l6.4 6.4M266.8 253.2l6.4 -6.4M281.0 240.4l6.4 6.4M281.0 246.8l6.4 -6.4M175.9 183.9l6.4 6.4M175.9 190.3l6.4 -6.4M263.4 265.8l6.4 6.4M263.4 272.2l6.4 -6.4M277.4 249.6l6.4 6.4M277.4 256.0l6.4 -6.4M299.3 217.5l6.4 6.4M299.3 223.9l6.4 -6.4M169.0 216.8l6.4 6.4M169.0 223.2l6.4 -6.4M168.2 218.6l6.4 6.4M168.2 225.0l6.4 -6.4M248.0 220.0l6.4 6.4M248.0 226.4l6.4 -6.4M311.8 259.8l6.4 6.4M311.8 266.2l6.4 -6.4M277.1 242.9l6.4 6.4M277.1 249.3l6.4 -6.4M264.2 230.6l6.4 6.4M264.2 237.0l6.4 -6.4M311.1 244.7l6.4 6.4M311.1 251.1l6.4 -6.4M251.9 216.1l6.4 6.4M251.9 222.5l6.4 -6.4M206.0 238.6l6.4 6.4M206.0 245.0l6.4 -6.4M174.7 194.1l6.4 6.4M174.7 200.5l6.4 -6.4M205.5 230.1l6.4 6.4M205.5 236.5l6.4 -6.4M339.2 230.1l6.4 6.4M339.2 236.5l6.4 -6.4M275.8 233.1l6.4 6.4M275.8 239.5l6.4 -6.4M173.4 186.1l6.4 6.4M173.4 192.5l6.4 -6.4M231.9 224.8l6.4 6.4M231.9 231.2l6.4 -6.4M339.7 253.4l6.4 6.4M339.7 259.8l6.4 -6.4M222.2 182.2l6.4 6.4M222.2 188.6l6.4 -6.4M195.3 186.8l6.4 6.4M195.3 193.2l6.4 -6.4M252.7 215.5l6.4 6.4M252.7 221.9l6.4 -6.4M196.9 205.1l6.4 6.4M196.9 211.5l6.4 -6.4M176.9 221.6l6.4 6.4M176.9 228.0l6.4 -6.4M247.0 228.4l6.4 6.4M247.0 234.8l6.4 -6.4M274.3 238.8l6.4 6.4M274.3 245.2l6.4 -6.4M172.1 176.9l6.4 6.4M172.1 183.3l6.4 -6.4M189.4 214.7l6.4 6.4M189.4 221.1l6.4 -6.4M320.7 250.4l6.4 6.4M320.7 256.8l6.4 -6.4M178.4 224.5l6.4 6.4M178.4 230.9l6.4 -6.4M327.7 231.1l6.4 6.4M327.7 237.5l6.4 -6.4M183.1 213.1l6.4 6.4M183.1 219.5l6.4 -6.4M198.9 220.2l6.4 6.4M198.9 226.6l6.4 -6.4M193.1 191.9l6.4 6.4M193.1 198.3l6.4 -6.4M189.7 206.0l6.4 6.4M189.7 212.4l6.4 -6.4M254.2 223.5l6.4 6.4M254.2 229.9l6.4 -6.4M273.5 237.3l6.4 6.4M273.5 243.7l6.4 -6.4M223.2 237.5l6.4 6.4M223.2 243.9l6.4 -6.4M233.4 204.4l6.4 6.4M233.4 210.8l6.4 -6.4M332.0 230.9l6.4 6.4M332.0 237.3l6.4 -6.4M229.8 239.9l6.4 6.4M229.8 246.3l6.4 -6.4M326.3 247.1l6.4 6.4M326.3 253.5l6.4 -6.4M297.8 258.2l6.4 6.4M297.8 264.6l6.4 -6.4M288.7 248.2l6.4 6.4M288.7 254.6l6.4 -6.4M316.3 264.8l6.4 6.4M316.3 271.2l6.4 -6.4M296.1 227.2l6.4 6.4M296.1 233.6l6.4 -6.4M266.7 253.0l6.4 6.4M266.7 259.4l6.4 -6.4M280.9 250.4l6.4 6.4M280.9 256.8l6.4 -6.4M264.3 247.6l6.4 6.4M264.3 254.0l6.4 -6.4M303.3 235.1l6.4 6.4M303.3 241.5l6.4 -6.4M220.9 206.2l6.4 6.4M220.9 212.6l6.4 -6.4M197.3 246.8l6.4 6.4M197.3 253.2l6.4 -6.4M210.1 169.9l6.4 6.4M210.1 176.3l6.4 -6.4M287.7 247.8l6.4 6.4M287.7 254.2l6.4 -6.4M263.0 222.2l6.4 6.4M263.0 228.6l6.4 -6.4M163.0 225.7l6.4 6.4M163.0 232.1l6.4 -6.4M212.3 215.3l6.4 6.4M212.3 221.7l6.4 -6.4M277.6 235.2l6.4 6.4M277.6 241.6l6.4 -6.4M249.5 213.5l6.4 6.4M249.5 219.9l6.4 -6.4M238.6 209.4l6.4 6.4M238.6 215.8l6.4 -6.4M296.3 252.5l6.4 6.4M296.3 258.9l6.4 -6.4M286.2 250.1l6.4 6.4M286.2 256.5l6.4 -6.4M199.3 162.7l6.4 6.4M199.3 169.1l6.4 -6.4M192.0 199.7l6.4 6.4M192.0 206.1l6.4 -6.4M294.3 248.5l6.4 6.4M294.3 254.9l6.4 -6.4M173.3 230.2l6.4 6.4M173.3 236.6l6.4 -6.4M311.2 251.6l6.4 6.4M311.2 258.0l6.4 -6.4M261.4 225.3l6.4 6.4M261.4 231.7l6.4 -6.4M278.3 244.7l6.4 6.4M278.3 251.1l6.4 -6.4M204.1 216.5l6.4 6.4M204.1 222.9l6.4 -6.4M258.5 236.2l6.4 6.4M258.5 242.6l6.4 -6.4M271.4 230.4l6.4 6.4M271.4 236.8l6.4 -6.4M283.6 247.3l6.4 6.4M283.6 253.7l6.4 -6.4M321.9 219.3l6.4 6.4M321.9 225.7l6.4 -6.4M214.5 196.7l6.4 6.4M214.5 203.1l6.4 -6.4M276.7 258.6l6.4 6.4M276.7 265.0l6.4 -6.4M210.2 216.0l6.4 6.4M210.2 222.4l6.4 -6.4M254.5 238.1l6.4 6.4M254.5 244.5l6.4 -6.4M272.0 239.4l6.4 6.4M272.0 245.8l6.4 -6.4M215.0 181.0l6.4 6.4M215.0 187.4l6.4 -6.4M233.8 219.7l6.4 6.4M233.8 226.1l6.4 -6.4M249.9 209.5l6.4 6.4M249.9 215.9l6.4 -6.4M342.7 254.7l6.4 6.4M342.7 261.1l6.4 -6.4M234.7 216.5l6.4 6.4M234.7 222.9l6.4 -6.4M189.6 200.1l6.4 6.4M189.6 206.5l6.4 -6.4M271.2 221.1l6.4 6.4M271.2 227.5l6.4 -6.4M229.0 225.1l6.4 6.4M229.0 231.5l6.4 -6.4M201.2 228.9l6.4 6.4M201.2 235.3l6.4 -6.4M186.6 195.0l6.4 6.4M186.6 201.4l6.4 -6.4M323.1 273.8l6.4 6.4M323.1 280.2l6.4 -6.4M201.3 223.5l6.4 6.4M201.3 229.9l6.4 -6.4M271.7 251.1l6.4 6.4M271.7 257.5l6.4 -6.4M188.7 203.1l6.4 6.4M188.7 209.5l6.4 -6.4M182.4 196.7l6.4 6.4M182.4 203.1l6.4 -6.4M200.0 193.7l6.4 6.4M200.0 200.1l6.4 -6.4M271.4 222.7l6.4 6.4M271.4 229.1l6.4 -6.4M200.3 253.0l6.4 6.4M200.3 259.4l6.4 -6.4M176.0 235.1l6.4 6.4M176.0 241.5l6.4 -6.4M220.5 208.9l6.4 6.4M220.5 215.3l6.4 -6.4M170.1 224.4l6.4 6.4M170.1 230.8l6.4 -6.4M207.6 232.5l6.4 6.4M207.6 238.9l6.4 -6.4M219.9 215.9l6.4 6.4M219.9 222.3l6.4 -6.4M223.4 185.8l6.4 6.4M223.4 192.2l6.4 -6.4M288.2 232.1l6.4 6.4M288.2 238.5l6.4 -6.4M180.0 211.6l6.4 6.4M180.0 218.0l6.4 -6.4M311.5 237.0l6.4 6.4M311.5 243.4l6.4 -6.4M229.2 205.4l6.4 6.4M229.2 211.8l6.4 -6.4M338.2 270.4l6.4 6.4M338.2 276.8l6.4 -6.4M270.4 256.0l6.4 6.4M270.4 262.4l6.4 -6.4M301.4 274.5l6.4 6.4M301.4 280.9l6.4 -6.4M236.0 186.4l6.4 6.4M236.0 192.8l6.4 -6.4M230.2 201.6l6.4 6.4M230.2 208.0l6.4 -6.4M226.3 239.5l6.4 6.4M226.3 245.9l6.4 -6.4M315.2 233.2l6.4 6.4M315.2 239.6l6.4 -6.4M232.3 187.7l6.4 6.4M232.3 194.1l6.4 -6.4M208.0 241.9l6.4 6.4M208.0 248.3l6.4 -6.4M328.6 268.9l6.4 6.4M328.6 275.3l6.4 -6.4M230.9 237.2l6.4 6.4M230.9 243.6l6.4 -6.4M323.4 269.1l6.4 6.4M323.4 275.5l6.4 -6.4M208.6 220.1l6.4 6.4M208.6 226.5l6.4 -6.4M226.3 257.7l6.4 6.4M226.3 264.1l6.4 -6.4M199.1 197.4l6.4 6.4M199.1 203.8l6.4 -6.4M294.0 249.2l6.4 6.4M294.0 255.6l6.4 -6.4M277.8 232.6l6.4 6.4M277.8 239.0l6.4 -6.4M184.4 221.1l6.4 6.4M184.4 227.5l6.4 -6.4M305.4 265.2l6.4 6.4M305.4 271.6l6.4 -6.4M270.6 237.2l6.4 6.4M270.6 243.6l6.4 -6.4M169.1 176.0l6.4 6.4M169.1 182.4l6.4 -6.4M227.6 259.7l6.4 6.4M227.6 266.1l6.4 -6.4M319.0 271.5l6.4 6.4M319.0 277.9l6.4 -6.4M179.0 234.8l6.4 6.4M179.0 241.2l6.4 -6.4M180.3 199.6l6.4 6.4M180.3 206.0l6.4 -6.4M341.4 257.7l6.4 6.4M341.4 264.1l6.4 -6.4M299.2 213.3l6.4 6.4M299.2 219.7l6.4 -6.4M283.3 244.9l6.4 6.4M283.3 251.3l6.4 -6.4M258.2 201.0l6.4 6.4M258.2 207.4l6.4 -6.4M286.8 237.8l6.4 6.4M286.8 244.2l6.4 -6.4M304.8 253.8l6.4 6.4M304.8 260.2l6.4 -6.4M171.3 214.7l6.4 6.4M171.3 221.1l6.4 -6.4M335.4 233.7l6.4 6.4M335.4 240.1l6.4 -6.4M264.4 240.6l6.4 6.4M264.4 247.0l6.4 -6.4M303.0 263.2l6.4 6.4M303.0 269.6l6.4 -6.4M163.0 178.1l6.4 6.4M163.0 184.5l6.4 -6.4M179.6 223.4l6.4 6.4M179.6 229.8l6.4 -6.4M301.2 250.5l6.4 6.4M301.2 256.9l6.4 -6.4M282.9 227.3l6.4 6.4M282.9 233.7l6.4 -6.4M246.0 223.9l6.4 6.4M246.0 230.3l6.4 -6.4M284.4 247.7l6.4 6.4M284.4 254.1l6.4 -6.4M258.7 240.0l6.4 6.4M258.7 246.4l6.4 -6.4M313.2 265.7l6.4 6.4M313.2 272.1l6.4 -6.4M338.7 278.9l6.4 6.4M338.7 285.3l6.4 -6.4M298.9 255.2l6.4 6.4M298.9 261.6l6.4 -6.4M184.5 204.5l6.4 6.4M184.5 210.9l6.4 -6.4M204.4 231.5l6.4 6.4M204.4 237.9l6.4 -6.4M185.7 197.9l6.4 6.4M185.7 204.3l6.4 -6.4M206.2 207.1l6.4 6.4M206.2 213.5l6.4 -6.4M241.5 191.5l6.4 6.4M241.5 197.9l6.4 -6.4M247.0 198.4l6.4 6.4M247.0 204.8l6.4 -6.4M290.8 249.3l6.4 6.4M290.8 255.7l6.4 -6.4M264.8 250.6l6.4 6.4M264.8 257.0l6.4 -6.4M227.5 224.5l6.4 6.4M227.5 230.9l6.4 -6.4M177.1 244.4l6.4 6.4M177.1 250.8l6.4 -6.4M168.2 194.8l6.4 6.4M168.2 201.2l6.4 -6.4M229.2 236.3l6.4 6.4M229.2 242.7l6.4 -6.4M313.8 265.9l6.4 6.4M313.8 272.3l6.4 -6.4M194.5 243.8l6.4 6.4M194.5 250.2l6.4 -6.4M204.3 216.0l6.4 6.4M204.3 222.4l6.4 -6.4M305.1 251.4l6.4 6.4M305.1 257.8l6.4 -6.4M301.2 259.0l6.4 6.4M301.2 265.4l6.4 -6.4M217.3 203.1l6.4 6.4M217.3 209.5l6.4 -6.4M305.6 261.6l6.4 6.4M305.6 268.0l6.4 -6.4M271.0 245.9l6.4 6.4M271.0 252.3l6.4 -6.4M341.3 248.5l6.4 6.4M341.3 254.9l6.4 -6.4M307.6 240.0l6.4 6.4M307.6 246.4l6.4 -6.4M313.9 266.0l6.4 6.4M313.9 272.4l6.4 -6.4M199.5 227.0l6.4 6.4M199.5 233.4l6.4 -6.4M171.9 190.8l6.4 6.4M171.9 197.2l6.4 -6.4M215.4 240.2l6.4 6.4M215.4 246.6l6.4 -6.4M310.3 238.6l6.4 6.4M310.3 245.0l6.4 -6.4M207.0 206.1l6.4 6.4M207.0 212.5l6.4 -6.4M174.1 220.8l6.4 6.4M174.1 227.2l6.4 -6.4M237.0 202.1l6.4 6.4M237.0 208.5l6.4 -6.4M215.2 230.5l6.4 6.4M215.2 236.9l6.4 -6.4M284.2 222.1l6.4 6.4M284.2 228.5l6.4 -6.4M211.4 215.8l6.4 6.4M211.4 222.2l6.4 -6.4M216.2 219.7l6.4 6.4M216.2 226.1l6.4 -6.4M249.3 229.8l6.4 6.4M249.3 236.2l6.4 -6.4M321.0 229.4l6.4 6.4M321.0 235.8l6.4 -6.4M167.1 216.6l6.4 6.4M167.1 223.0l6.4 -6.4M304.2 229.0l6.4 6.4M304.2 235.4l6.4 -6.4M298.0 244.3l6.4 6.4M298.0 250.7l6.4 -6.4M305.4 268.2l6.4 6.4M305.4 274.6l6.4 -6.4M284.1 221.7l6.4 6.4M284.1 228.1l6.4 -6.4M258.8 196.6l6.4 6.4M258.8 203.0l6.4 -6.4M317.3 243.7l6.4 6.4M317.3 250.1l6.4 -6.4M298.2 211.7l6.4 6.4M298.2 218.1l6.4 -6.4M171.7 183.4l6.4 6.4M171.7 189.8l6.4 -6.4M230.4 232.6l6.4 6.4M230.4 239.0l6.4 -6.4M188.8 231.8l6.4 6.4M188.8 238.2l6.4 -6.4M250.8 213.8l6.4 6.4M250.8 220.2l6.4 -6.4M164.1 246.7l6.4 6.4M164.1 253.1l6.4 -6.4M294.8 245.2l6.4 6.4M294.8 251.6l6.4 -6.4M177.4 193.4l6.4 6.4M177.4 199.8l6.4 -6.4M294.5 262.9l6.4 6.4M294.5 269.3l6.4 -6.4M168.8 198.6l6.4 6.4M168.8 205.0l6.4 -6.4M223.7 251.9l6.4 6.4M223.7 258.3l6.4 -6.4M185.1 179.4l6.4 6.4M185.1 185.8l6.4 -6.4M212.0 228.4l6.4 6.4M212.0 234.8l6.4 -6.4M236.7 232.7l6.4 6.4M236.7 239.1l6.4 -6.4M241.1 261.2l6.4 6.4M241.1 267.6l6.4 -6.4M203.9 196.2l6.4 6.4M203.9 202.6l6.4 -6.4M245.6 211.6l6.4 6.4M245.6 218.0l6.4 -6.4M341.3 242.6l6.4 6.4M341.3 249.0l6.4 -6.4M166.3 216.3l6.4 6.4M166.3 222.7l6.4 -6.4M314.1 275.7l6.4 6.4M314.1 282.1l6.4 -6.4M205.5 222.6l6.4 6.4M205.5 229.0l6.4 -6.4M210.2 174.2l6.4 6.4M210.2 180.6l6.4 -6.4M291.8 241.3l6.4 6.4M291.8 247.7l6.4 -6.4M254.5 196.9l6.4 6.4M254.5 203.3l6.4 -6.4M257.3 218.0l6.4 6.4M257.3 224.4l6.4 -6.4M200.9 236.8l6.4 6.4M200.9 243.2l6.4 -6.4M264.8 229.0l6.4 6.4M264.8 235.4l6.4 -6.4M313.6 214.6l6.4 6.4M313.6 221.0l6.4 -6.4M173.8 166.9l6.4 6.4M173.8 173.3l6.4 -6.4M341.1 255.1l6.4 6.4M341.1 261.5l6.4 -6.4M284.4 233.8l6.4 6.4M284.4 240.2l6.4 -6.4M277.9 221.7l6.4 6.4M277.9 228.1l6.4 -6.4M324.8 256.3l6.4 6.4M324.8 262.7l6.4 -6.4M199.7 191.1l6.4 6.4M199.7 197.5l6.4 -6.4M285.3 241.4l6.4 6.4M285.3 247.8l6.4 -6.4M234.4 222.2l6.4 6.4M234.4 228.6l6.4 -6.4M203.6 186.8l6.4 6.4M203.6 193.2l6.4 -6.4M327.1 263.8l6.4 6.4M327.1 270.2l6.4 -6.4M166.5 183.1l6.4 6.4M166.5 189.5l6.4 -6.4M273.3 217.5l6.4 6.4M273.3 223.9l6.4 -6.4M223.9 215.0l6.4 6.4M223.9 221.4l6.4 -6.4M285.4 235.0l6.4 6.4M285.4 241.4l6.4 -6.4M283.0 256.0l6.4 6.4M283.0 262.4l6.4 -6.4M245.5 180.7l6.4 6.4M245.5 187.1l6.4 -6.4M273.4 252.9l6.4 6.4M273.4 259.3l6.4 -6.4M228.2 199.5l6.4 6.4M228.2 205.9l6.4 -6.4M312.3 271.2l6.4 6.4M312.3 277.6l6.4 -6.4M316.3 246.5l6.4 6.4M316.3 252.9l6.4 -6.4M341.2 266.1l6.4 6.4M341.2 272.5l6.4 -6.4M164.8 195.9l6.4 6.4M164.8 202.3l6.4 -6.4M226.0 206.7l6.4 6.4M226.0 213.1l6.4 -6.4M287.1 249.6l6.4 6.4M287.1 256.0l6.4 -6.4M217.8 235.0l6.4 6.4M217.8 241.4l6.4 -6.4M238.9 240.7l6.4 6.4M238.9 247.1l6.4 -6.4M223.9 226.2l6.4 6.4M223.9 232.6l6.4 -6.4M203.5 235.2l6.4 6.4M203.5 241.6l6.4 -6.4M217.1 210.6l6.4 6.4M217.1 217.0l6.4 -6.4M257.1 250.8l6.4 6.4M257.1 257.2l6.4 -6.4M259.1 221.8l6.4 6.4M259.1 228.2l6.4 -6.4M309.6 258.6l6.4 6.4M309.6 265.0l6.4 -6.4M288.9 261.1l6.4 6.4M288.9 267.5l6.4 -6.4M172.7 184.4l6.4 6.4M172.7 190.8l6.4 -6.4M297.4 273.9l6.4 6.4M297.4 280.3l6.4 -6.4M191.2 208.0l6.4 6.4M191.2 214.4l6.4 -6.4M275.2 268.6l6.4 6.4M275.2 275.0l6.4 -6.4M254.7 263.7l6.4 6.4M254.7 270.1l6.4 -6.4M339.4 275.2l6.4 6.4M339.4 281.6l6.4 -6.4M209.5 226.6l6.4 6.4M209.5 233.0l6.4 -6.4M217.3 204.3l6.4 6.4M217.3 210.7l6.4 -6.4M208.4 239.9l6.4 6.4M208.4 246.3l6.4 -6.4M179.0 217.3l6.4 6.4M179.0 223.7l6.4 -6.4M333.6 254.9l6.4 6.4M333.6 261.3l6.4 -6.4M291.9 272.6l6.4 6.4M291.9 279.0l6.4 -6.4M173.7 209.0l6.4 6.4M173.7 215.4l6.4 -6.4M310.1 243.0l6.4 6.4M310.1 249.4l6.4 -6.4M288.8 242.5l6.4 6.4M288.8 248.9l6.4 -6.4M257.5 226.0l6.4 6.4M257.5 232.4l6.4 -6.4M292.6 234.0l6.4 6.4M292.6 240.4l6.4 -6.4M222.1 200.3l6.4 6.4M222.1 206.7l6.4 -6.4M257.4 220.9l6.4 6.4M257.4 227.3l6.4 -6.4M214.5 196.3l6.4 6.4M214.5 202.7l6.4 -6.4M228.8 246.2l6.4 6.4M228.8 252.6l6.4 -6.4M268.8 237.6l6.4 6.4M268.8 244.0l6.4 -6.4M273.0 241.3l6.4 6.4M273.0 247.7l6.4 -6.4M334.8 252.7l6.4 6.4M334.8 259.1l6.4 -6.4M189.3 223.9l6.4 6.4M189.3 230.3l6.4 -6.4M251.7 196.6l6.4 6.4M251.7 203.0l6.4 -6.4M219.3 251.8l6.4 6.4M219.3 258.2l6.4 -6.4M258.6 255.6l6.4 6.4M258.6 262.0l6.4 -6.4M320.2 253.7l6.4 6.4M320.2 260.1l6.4 -6.4M289.2 228.0l6.4 6.4M289.2 234.4l6.4 -6.4M293.7 210.9l6.4 6.4M293.7 217.3l6.4 -6.4M260.2 203.4l6.4 6.4M260.2 209.8l6.4 -6.4M174.9 240.8l6.4 6.4M174.9 247.2l6.4 -6.4M170.4 203.5l6.4 6.4M170.4 209.9l6.4 -6.4M226.9 225.4l6.4 6.4M226.9 231.8l6.4 -6.4M240.8 218.7l6.4 6.4M240.8 225.1l6.4 -6.4M259.0 223.6l6.4 6.4M259.0 230.0l6.4 -6.4M242.3 221.2l6.4 6.4M242.3 227.6l6.4 -6.4M206.7 249.5l6.4 6.4M206.7 255.9l6.4 -6.4M305.4 224.8l6.4 6.4M305.4 231.2l6.4 -6.4M287.8 233.3l6.4 6.4M287.8 239.7l6.4 -6.4M198.6 206.5l6.4 6.4M198.6 212.9l6.4 -6.4M178.9 233.8l6.4 6.4M178.9 240.2l6.4 -6.4M237.8 254.4l6.4 6.4M237.8 260.8l6.4 -6.4M233.0 251.4l6.4 6.4M233.0 257.8l6.4 -6.4M193.4 223.0l6.4 6.4M193.4 229.4l6.4 -6.4M163.6 203.0l6.4 6.4M163.6 209.4l6.4 -6.4M177.8 191.4l6.4 6.4M177.8 197.8l6.4 -6.4M183.4 195.7l6.4 6.4M183.4 202.1l6.4 -6.4M187.4 186.5l6.4 6.4M187.4 192.9l6.4 -6.4M307.0 231.9l6.4 6.4M307.0 238.3l6.4 -6.4M187.5 224.1l6.4 6.4M187.5 230.5l6.4 -6.4M167.9 226.5l6.4 6.4M167.9 232.9l6.4 -6.4M285.5 200.2l6.4 6.4M285.5 206.6l6.4 -6.4M307.9 249.2l6.4 6.4M307.9 255.6l6.4 -6.4M225.0 220.5l6.4 6.4M225.0 226.9l6.4 -6.4M340.4 233.0l6.4 6.4M340.4 239.4l6.4 -6.4M240.4 254.5l6.4 6.4M240.4 260.9l6.4 -6.4M211.7 208.6l6.4 6.4M211.7 215.0l6.4 -6.4M174.2 231.3l6.4 6.4M174.2 237.7l6.4 -6.4M189.0 203.3l6.4 6.4M189.0 209.7l6.4 -6.4M174.6 226.9l6.4 6.4M174.6 233.3l6.4 -6.4M310.0 255.8l6.4 6.4M310.0 262.2l6.4 -6.4M316.4 243.2l6.4 6.4M316.4 249.6l6.4 -6.4M304.8 247.7l6.4 6.4M304.8 254.1l6.4 -6.4M236.2 215.0l6.4 6.4M236.2 221.4l6.4 -6.4M184.4 211.5l6.4 6.4M184.4 217.9l6.4 -6.4M239.3 234.9l6.4 6.4M239.3 241.3l6.4 -6.4M318.8 227.8l6.4 6.4M318.8 234.2l6.4 -6.4M191.5 224.2l6.4 6.4M191.5 230.6l6.4 -6.4M279.1 217.9l6.4 6.4M279.1 224.3l6.4 -6.4M171.5 173.7l6.4 6.4M171.5 180.1l6.4 -6.4M332.6 265.0l6.4 6.4M332.6 271.4l6.4 -6.4M209.5 195.8l6.4 6.4M209.5 202.2l6.4 -6.4M330.3 244.4l6.4 6.4M330.3 250.8l6.4 -6.4M199.7 246.4l6.4 6.4M199.7 252.8l6.4 -6.4M319.6 254.9l6.4 6.4M319.6 261.3l6.4 -6.4M165.6 208.7l6.4 6.4M165.6 215.1l6.4 -6.4M213.2 242.0l6.4 6.4M213.2 248.4l6.4 -6.4M214.9 213.8l6.4 6.4M214.9 220.2l6.4 -6.4M284.9 270.9l6.4 6.4M284.9 277.3l6.4 -6.4M225.0 205.7l6.4 6.4M225.0 212.1l6.4 -6.4M279.2 231.5l6.4 6.4M279.2 237.9l6.4 -6.4M183.2 198.3l6.4 6.4M183.2 204.7l6.4 -6.4M180.8 200.0l6.4 6.4M180.8 206.4l6.4 -6.4M188.4 207.4l6.4 6.4M188.4 213.8l6.4 -6.4M271.5 253.0l6.4 6.4M271.5 259.4l6.4 -6.4M274.9 229.0l6.4 6.4M274.9 235.4l6.4 -6.4M265.4 249.4l6.4 6.4M265.4 255.8l6.4 -6.4M278.4 235.8l6.4 6.4M278.4 242.2l6.4 -6.4M167.8 194.3l6.4 6.4M167.8 200.7l6.4 -6.4M240.9 201.6l6.4 6.4M240.9 208.0l6.4 -6.4M271.8 229.3l6.4 6.4M271.8 235.7l6.4 -6.4M284.9 227.4l6.4 6.4M284.9 233.8l6.4 -6.4M185.0 205.1l6.4 6.4M185.0 211.5l6.4 -6.4M215.6 194.9l6.4 6.4M215.6 201.3l6.4 -6.4M194.9 208.2l6.4 6.4M194.9 214.6l6.4 -6.4M178.2 206.8l6.4 6.4M178.2 213.2l6.4 -6.4M197.6 224.0l6.4 6.4M197.6 230.4l6.4 -6.4M257.0 214.1l6.4 6.4M257.0 220.5l6.4 -6.4M275.2 217.8l6.4 6.4M275.2 224.2l6.4 -6.4M273.0 208.9l6.4 6.4M273.0 215.3l6.4 -6.4M201.6 218.8l6.4 6.4M201.6 225.2l6.4 -6.4M268.2 217.0l6.4 6.4M268.2 223.4l6.4 -6.4M301.1 229.4l6.4 6.4M301.1 235.8l6.4 -6.4M229.9 216.9l6.4 6.4M229.9 223.3l6.4 -6.4M196.1 179.7l6.4 6.4M196.1 186.1l6.4 -6.4M339.6 276.0l6.4 6.4M339.6 282.4l6.4 -6.4M232.0 219.7l6.4 6.4M232.0 226.1l6.4 -6.4M165.9 202.7l6.4 6.4M165.9 209.1l6.4 -6.4M303.7 221.0l6.4 6.4M303.7 227.4l6.4 -6.4M296.4 228.1l6.4 6.4M296.4 234.5l6.4 -6.4M282.9 222.3l6.4 6.4M282.9 228.7l6.4 -6.4M179.1 203.2l6.4 6.4M179.1 209.6l6.4 -6.4M337.4 234.5l6.4 6.4M337.4 240.9l6.4 -6.4M192.7 203.0l6.4 6.4M192.7 209.4l6.4 -6.4M322.7 257.8l6.4 6.4M322.7 264.2l6.4 -6.4M291.0 191.4l6.4 6.4M291.0 197.8l6.4 -6.4M178.8 202.0l6.4 6.4M178.8 208.4l6.4 -6.4M326.3 237.7l6.4 6.4M326.3 244.1l6.4 -6.4M192.3 193.8l6.4 6.4M192.3 200.2l6.4 -6.4M242.2 241.7l6.4 6.4M242.2 248.1l6.4 -6.4M247.7 241.5l6.4 6.4M247.7 247.9l6.4 -6.4M305.4 226.0l6.4 6.4M305.4 232.4l6.4 -6.4M270.6 267.5l6.4 6.4M270.6 273.9l6.4 -6.4M261.3 257.3l6.4 6.4M261.3 263.7l6.4 -6.4M250.6 235.1l6.4 6.4M250.6 241.5l6.4 -6.4M191.5 191.4l6.4 6.4M191.5 197.8l6.4 -6.4M271.1 242.9l6.4 6.4M271.1 249.3l6.4 -6.4M274.4 246.2l6.4 6.4M274.4 252.6l6.4 -6.4M205.5 179.5l6.4 6.4M205.5 185.9l6.4 -6.4M261.2 230.7l6.4 6.4M261.2 237.1l6.4 -6.4M241.4 253.5l6.4 6.4M241.4 259.9l6.4 -6.4M208.9 210.6l6.4 6.4M208.9 217.0l6.4 -6.4M241.7 261.3l6.4 6.4M241.7 267.7l6.4 -6.4M266.8 211.1l6.4 6.4M266.8 217.5l6.4 -6.4M165.6 200.4l6.4 6.4M165.6 206.8l6.4 -6.4M310.1 257.8l6.4 6.4M310.1 264.2l6.4 -6.4M251.9 230.0l6.4 6.4M251.9 236.4l6.4 -6.4M166.4 214.7l6.4 6.4M166.4 221.1l6.4 -6.4M219.5 217.6l6.4 6.4M219.5 224.0l6.4 -6.4M337.2 265.8l6.4 6.4M337.2 272.2l6.4 -6.4M326.7 231.9l6.4 6.4M326.7 238.3l6.4 -6.4M206.0 204.0l6.4 6.4M206.0 210.4l6.4 -6.4M329.2 251.7l6.4 6.4M329.2 258.1l6.4 -6.4M198.8 216.7l6.4 6.4M198.8 223.1l6.4 -6.4M268.6 220.6l6.4 6.4M268.6 227.0l6.4 -6.4M206.2 183.8l6.4 6.4M206.2 190.2l6.4 -6.4M203.7 211.7l6.4 6.4M203.7 218.1l6.4 -6.4M268.3 251.0l6.4 6.4M268.3 257.4l6.4 -6.4M342.1 252.1l6.4 6.4M342.1 258.5l6.4 -6.4M254.5 252.1l6.4 6.4M254.5 258.5l6.4 -6.4M181.3 223.9l6.4 6.4M181.3 230.3l6.4 -6.4M178.0 214.3l6.4 6.4M178.0 220.7l6.4 -6.4M300.9 257.6l6.4 6.4M300.9 264.0l6.4 -6.4M189.3 237.5l6.4 6.4M189.3 243.9l6.4 -6.4M242.9 223.4l6.4 6.4M242.9 229.8l6.4 -6.4M289.3 244.3l6.4 6.4M289.3 250.7l6.4 -6.4M303.2 231.9l6.4 6.4M303.2 238.3l6.4 -6.4M185.9 219.9l6.4 6.4M185.9 226.3l6.4 -6.4M213.9 238.2l6.4 6.4M213.9 244.6l6.4 -6.4M240.8 242.9l6.4 6.4M240.8 249.3l6.4 -6.4M301.1 237.8l6.4 6.4M301.1 244.2l6.4 -6.4M234.7 197.9l6.4 6.4M234.7 204.3l6.4 -6.4M286.6 206.1l6.4 6.4M286.6 212.5l6.4 -6.4M257.3 205.1l6.4 6.4M257.3 211.5l6.4 -6.4M164.0 229.6l6.4 6.4M164.0 236.0l6.4 -6.4M254.9 227.5l6.4 6.4M254.9 233.9l6.4 -6.4M235.4 207.0l6.4 6.4M235.4 213.4l6.4 -6.4M270.3 227.4l6.4 6.4M270.3 233.8l6.4 -6.4M303.9 228.1l6.4 6.4M303.9 234.5l6.4 -6.4M181.7 209.2l6.4 6.4M181.7 215.6l6.4 -6.4M333.5 265.7l6.4 6.4M333.5 272.1l6.4 -6.4M295.8 236.8l6.4 6.4M295.8 243.2l6.4 -6.4M202.7 205.3l6.4 6.4M202.7 211.7l6.4 -6.4M167.3 226.8l6.4 6.4M167.3 233.2l6.4 -6.4M165.1 203.8l6.4 6.4M165.1 210.2l6.4 -6.4M282.1 240.0l6.4 6.4M282.1 246.4l6.4 -6.4M204.8 205.8l6.4 6.4M204.8 212.2l6.4 -6.4M300.9 212.3l6.4 6.4M300.9 218.7l6.4 -6.4M271.5 233.9l6.4 6.4M271.5 240.3l6.4 -6.4M196.1 219.8l6.4 6.4M196.1 226.2l6.4 -6.4M270.1 255.9l6.4 6.4M270.1 262.3l6.4 -6.4M277.3 226.4l6.4 6.4M277.3 232.8l6.4 -6.4M314.4 233.8l6.4 6.4M314.4 240.2l6.4 -6.4M311.8 239.2l6.4 6.4M311.8 245.6l6.4 -6.4M207.4 190.8l6.4 6.4M207.4 197.2l6.4 -6.4M281.8 221.6l6.4 6.4M281.8 228.0l6.4 -6.4M272.1 220.8l6.4 6.4M272.1 227.2l6.4 -6.4M205.9 200.0l6.4 6.4M205.9 206.4l6.4 -6.4M220.2 179.4l6.4 6.4M220.2 185.8l6.4 -6.4M243.4 203.1l6.4 6.4M243.4 209.5l6.4 -6.4M301.0 222.2l6.4 6.4M301.0 228.6l6.4 -6.4M243.6 215.0l6.4 6.4M243.6 221.4l6.4 -6.4M312.1 235.0l6.4 6.4M312.1 241.4l6.4 -6.4M263.0 230.5l6.4 6.4M263.0 236.9l6.4 -6.4M212.9 217.3l6.4 6.4M212.9 223.7l6.4 -6.4M334.0 279.3l6.4 6.4M334.0 285.7l6.4 -6.4M305.2 218.2l6.4 6.4M305.2 224.6l6.4 -6.4M166.3 223.4l6.4 6.4M166.3 229.8l6.4 -6.4M331.8 257.1l6.4 6.4M331.8 263.5l6.4 -6.4M194.9 226.5l6.4 6.4M194.9 232.9l6.4 -6.4M252.0 238.1l6.4 6.4M252.0 244.5l6.4 -6.4M214.9 225.2l6.4 6.4M214.9 231.6l6.4 -6.4M173.3 220.6l6.4 6.4M173.3 227.0l6.4 -6.4M268.3 196.4l6.4 6.4M268.3 202.8l6.4 -6.4M292.8 262.7l6.4 6.4M292.8 269.1l6.4 -6.4M320.0 243.5l6.4 6.4M320.0 249.9l6.4 -6.4M270.7 257.9l6.4 6.4M270.7 264.3l6.4 -6.4M285.0 259.3l6.4 6.4M285.0 265.7l6.4 -6.4M199.8 204.1l6.4 6.4M199.8 210.5l6.4 -6.4M275.9 224.1l6.4 6.4M275.9 230.5l6.4 -6.4M247.5 221.5l6.4 6.4M247.5 227.9l6.4 -6.4M226.2 227.5l6.4 6.4M226.2 233.9l6.4 -6.4M184.1 221.8l6.4 6.4M184.1 228.2l6.4 -6.4M257.4 197.1l6.4 6.4M257.4 203.5l6.4 -6.4M272.3 258.8l6.4 6.4M272.3 265.2l6.4 -6.4M214.3 194.1l6.4 6.4M214.3 200.5l6.4 -6.4M206.7 244.1l6.4 6.4M206.7 250.5l6.4 -6.4M285.7 239.0l6.4 6.4M285.7 245.4l6.4 -6.4M232.2 209.5l6.4 6.4M232.2 215.9l6.4 -6.4M223.1 228.3l6.4 6.4M223.1 234.7l6.4 -6.4M179.6 226.2l6.4 6.4M179.6 232.6l6.4 -6.4M226.5 172.3l6.4 6.4M226.5 178.7l6.4 -6.4M321.1 270.2l6.4 6.4M321.1 276.6l6.4 -6.4M330.3 245.3l6.4 6.4M330.3 251.7l6.4 -6.4M228.4 215.5l6.4 6.4M228.4 221.9l6.4 -6.4M274.8 237.2l6.4 6.4M274.8 243.6l6.4 -6.4M238.9 215.2l6.4 6.4M238.9 221.6l6.4 -6.4M314.4 263.8l6.4 6.4M314.4 270.2l6.4 -6.4M205.1 236.1l6.4 6.4M205.1 242.5l6.4 -6.4M237.2 207.6l6.4 6.4M237.2 214.0l6.4 -6.4M218.6 221.6l6.4 6.4M218.6 228.0l6.4 -6.4M225.5 190.9l6.4 6.4M225.5 197.3l6.4 -6.4M332.1 245.5l6.4 6.4M332.1 251.9l6.4 -6.4M222.1 188.3l6.4 6.4M222.1 194.7l6.4 -6.4M284.2 240.7l6.4 6.4M284.2 247.1l6.4 -6.4M171.8 204.4l6.4 6.4M171.8 210.8l6.4 -6.4M214.4 227.2l6.4 6.4M214.4 233.6l6.4 -6.4M167.5 208.8l6.4 6.4M167.5 215.2l6.4 -6.4M179.8 197.7l6.4 6.4M179.8 204.1l6.4 -6.4M177.1 192.5l6.4 6.4M177.1 198.9l6.4 -6.4M304.1 246.2l6.4 6.4M304.1 252.6l6.4 -6.4M257.0 264.0l6.4 6.4M257.0 270.4l6.4 -6.4M232.9 226.8l6.4 6.4M232.9 233.2l6.4 -6.4M181.9 198.4l6.4 6.4M181.9 204.8l6.4 -6.4M260.8 228.7l6.4 6.4M260.8 235.1l6.4 -6.4M271.0 248.0l6.4 6.4M271.0 254.4l6.4 -6.4M242.6 248.0l6.4 6.4M242.6 254.4l6.4 -6.4M170.4 234.1l6.4 6.4M170.4 240.5l6.4 -6.4M249.0 247.5l6.4 6.4M249.0 253.9l6.4 -6.4M303.5 240.6l6.4 6.4M303.5 247.0l6.4 -6.4M163.1 227.1l6.4 6.4M163.1 233.5l6.4 -6.4M320.9 269.7l6.4 6.4M320.9 276.1l6.4 -6.4M285.5 232.0l6.4 6.4M285.5 238.4l6.4 -6.4M241.3 200.5l6.4 6.4M241.3 206.9l6.4 -6.4M224.6 233.5l6.4 6.4M224.6 239.9l6.4 -6.4M200.2 190.3l6.4 6.4M200.2 196.7l6.4 -6.4M172.7 219.3l6.4 6.4M172.7 225.7l6.4 -6.4M291.6 191.6l6.4 6.4M291.6 198.0l6.4 -6.4M272.5 244.8l6.4 6.4M272.5 251.2l6.4 -6.4M232.6 220.8l6.4 6.4M232.6 227.2l6.4 -6.4M247.2 221.7l6.4 6.4M247.2 228.1l6.4 -6.4M263.0 246.5l6.4 6.4M263.0 252.9l6.4 -6.4M287.3 224.1l6.4 6.4M287.3 230.5l6.4 -6.4M281.5 223.2l6.4 6.4M281.5 229.6l6.4 -6.4M254.8 214.6l6.4 6.4M254.8 221.0l6.4 -6.4M195.0 217.2l6.4 6.4M195.0 223.6l6.4 -6.4M169.7 185.4l6.4 6.4M169.7 191.8l6.4 -6.4M312.3 266.0l6.4 6.4M312.3 272.4l6.4 -6.4M195.6 254.3l6.4 6.4M195.6 260.7l6.4 -6.4M245.6 224.0l6.4 6.4M245.6 230.4l6.4 -6.4M193.0 223.0l6.4 6.4M193.0 229.4l6.4 -6.4M279.0 237.9l6.4 6.4M279.0 244.3l6.4 -6.4M239.0 261.0l6.4 6.4M239.0 267.4l6.4 -6.4M329.7 222.7l6.4 6.4M329.7 229.1l6.4 -6.4M296.1 249.5l6.4 6.4M296.1 255.9l6.4 -6.4M175.4 208.6l6.4 6.4M175.4 215.0l6.4 -6.4M183.9 183.0l6.4 6.4M183.9 189.4l6.4 -6.4M194.4 190.5l6.4 6.4M194.4 196.9l6.4 -6.4M176.3 189.5l6.4 6.4M176.3 195.9l6.4 -6.4M294.7 260.8l6.4 6.4M294.7 267.2l6.4 -6.4M316.3 253.0l6.4 6.4M316.3 259.4l6.4 -6.4M228.4 88.1l6.4 6.4M228.4 94.5l6.4 -6.4M244.3 131.5l6.4 6.4M244.3 137.9l6.4 -6.4M270.0 129.7l6.4 6.4M270.0 136.1l6.4 -6.4M256.8 147.6l6.4 6.4M256.8 154.0l6.4 -6.4M217.3 154.0l6.4 6.4M217.3 160.4l6.4 -6.4M221.7 159.3l6.4 6.4M221.7 165.7l6.4 -6.4M202.1 167.2l6.4 6.4M202.1 173.6l6.4 -6.4M230.5 168.1l6.4 6.4M230.5 174.5l6.4 -6.4M207.6 173.1l6.4 6.4M207.6 179.5l6.4 -6.4M261.8 173.0l6.4 6.4M261.8 179.4l6.4 -6.4M229.0 177.5l6.4 6.4M229.0 183.9l6.4 -6.4M265.4 183.6l6.4 6.4M265.4 190.0l6.4 -6.4M273.3 181.8l6.4 6.4M273.3 188.2l6.4 -6.4M278.6 184.5l6.4 6.4M278.6 190.9l6.4 -6.4M319.2 171.2l6.4 6.4M319.2 177.6l6.4 -6.4M324.5 174.8l6.4 6.4M324.5 181.2l6.4 -6.4M312.2 193.3l6.4 6.4M312.2 199.7l6.4 -6.4M165.1 154.0l6.4 6.4M165.1 160.4l6.4 -6.4M170.9 155.5l6.4 6.4M170.9 161.9l6.4 -6.4M176.8 155.5l6.4 6.4M176.8 161.9l6.4 -6.4M258.2 285.0l6.4 6.4M258.2 291.4l6.4 -6.4M237.5 258.8l6.4 6.4M237.5 265.2l6.4 -6.4M257.3 272.3l6.4 6.4M257.3 278.7l6.4 -6.4"/>
<path fill="none" stroke="#543005" stroke-width="1.2" d="M104.8 227.3L107.9 233.3H101.7ZM116.1 217.8L119.2 223.8H113.0ZM100.7 204.0L103.8 210.0H97.6ZM118.2 196.8L121.3 202.8H115.1ZM114.1 234.1L117.2 240.1H111.0ZM105.5 228.0L108.6 234.0H102.4ZM118.5 206.2L121.6 212.2H115.4ZM114.2 209.2L117.3 215.2H111.1ZM115.9 186.6L119.0 192.6H112.8ZM109.0 218.3L112.1 224.3H105.9ZM115.1 231.9L118.2 237.9H112.0ZM105.5 210.9L108.6 216.9H102.4ZM116.7 190.9L119.8 196.9H113.6ZM111.6 228.9L114.7 234.9H108.5ZM113.9 207.1L117.0 213.1H110.8ZM103.6 202.6L106.7 208.6H100.5ZM105.6 222.7L108.7 228.7H102.5ZM110.7 192.1L113.8 198.1H107.6ZM115.1 215.3L118.2 221.3H112.0ZM116.0 222.1L119.1 228.1H112.9ZM109.1 226.7L112.2 232.7H106.0ZM104.3 209.9L107.4 215.9H101.2ZM101.4 216.9L104.5 222.9H98.3ZM111.7 192.8L114.8 198.8H108.6ZM110.9 203.3L114.0 209.3H107.8ZM104.6 211.3L107.7 217.3H101.5ZM107.3 219.9L110.4 225.9H104.2ZM105.6 216.0L108.7 222.0H102.5ZM105.3 217.0L108.4 223.0H102.2ZM114.1 229.6L117.2 235.6H111.0ZM110.3 235.6L113.4 241.6H107.2ZM107.1 217.8L110.2 223.8H104.0ZM102.9 193.9L106.0 199.9H99.8ZM112.5 231.1L115.6 237.1H109.4ZM115.4 204.9L118.5 210.9H112.3ZM106.4 194.6L109.5 200.6H103.3ZM116.6 190.0L119.7 196.0H113.5ZM118.6 224.5L121.7 230.5H115.5ZM108.9 209.4L112.0 215.4H105.8ZM102.0 218.7L105.1 224.7H98.9ZM101.0 200.5L104.1 206.5H97.9ZM102.0 193.5L105.1 199.5H98.9ZM115.1 229.5L118.2 235.5H112.0ZM117.4 193.7L120.5 199.7H114.3ZM114.9 224.8L118.0 230.8H111.8ZM112.2 197.3L115.3 203.3H109.1ZM103.1 209.0L106.2 215.0H100.0ZM105.8 234.1L108.9 240.1H102.7ZM102.7 231.1L105.8 237.1H99.6ZM104.6 215.9L107.7 221.9H101.5ZM107.9 195.9L111.0 201.9H104.8ZM113.4 216.6L116.5 222.6H110.3ZM115.6 208.7L118.7 214.7H112.5ZM107.0 218.7L110.1 224.7H103.9ZM112.0 210.2L115.1 216.2H108.9ZM100.8 192.7L103.9 198.7H97.7ZM103.1 213.8L106.2 219.8H100.0ZM104.4 203.6L107.5 209.6H101.3ZM113.5 227.5L116.6 233.5H110.4ZM108.8 202.7L111.9 208.7H105.7ZM112.1 230.7L115.2 236.7H109.0ZM104.6 192.9L107.7 198.9H101.5ZM108.9 215.0L112.0 221.0H105.8ZM110.6 219.7L113.7 225.7H107.5ZM103.1 216.8L106.2 222.8H100.0ZM104.9 220.9L108.0 226.9H101.8ZM116.6 217.5L119.7 223.5H113.5ZM106.2 204.0L109.3 210.0H103.1ZM111.9 201.9L115.0 207.9H108.8ZM104.9 192.2L108.0 198.2H101.8ZM111.3 229.0L114.4 235.0H108.2ZM118.2 233.1L121.3 239.1H115.1ZM112.0 206.8L115.1 212.8H108.9ZM107.2 192.6L110.3 198.6H104.1ZM105.0 209.8L108.1 215.8H101.9ZM109.4 231.2L112.5 237.2H106.3ZM116.9 225.7L120.0 231.7H113.8ZM107.0 208.3L110.1 214.3H103.9ZM114.9 222.9L118.0 228.9H111.8ZM107.0 208.5L110.1 214.5H103.9ZM102.6 211.4L105.7 217.4H99.5ZM115.5 230.5L118.6 236.5H112.4ZM113.9 228.0L117.0 234.0H110.8ZM114.2 228.0L117.3 234.0H111.1ZM112.7 213.6L115.8 219.6H109.6ZM117.9 198.2L121.0 204.2H114.8ZM109.8 221.7L112.9 227.7H106.7ZM112.3 199.0L115.4 205.0H109.2ZM112.0 220.2L115.1 226.2H108.9ZM109.2 220.6L112.3 226.6H106.1ZM118.5 217.3L121.6 223.3H115.4ZM111.8 202.4L114.9 208.4H108.7ZM109.8 234.1L112.9 240.1H106.7ZM116.6 226.2L119.7 232.2H113.5ZM112.8 217.0L115.9 223.0H109.7ZM104.4 226.4L107.5 232.4H101.3ZM117.6 211.4L120.7 217.4H114.5ZM117.0 211.5L120.1 217.5H113.9ZM111.4 217.0L114.5 223.0H108.3ZM118.4 217.2L121.5 223.2H115.3ZM114.4 203.4L117.5 209.4H111.3ZM117.2 208.8L120.3 214.8H114.1ZM118.6 217.8L121.7 223.8H115.5ZM114.2 209.9L117.3 215.9H111.1ZM102.4 201.3L105.5 207.3H99.3ZM111.1 196.3L114.2 202.3H108.0ZM102.1 200.4L105.2 206.4H99.0ZM115.6 212.7L118.7 218.7H112.5ZM118.6 213.7L121.7 219.7H115.5ZM115.5 228.9L118.6 234.9H112.4ZM114.8 202.6L117.9 208.6H111.7ZM117.9 193.3L121.0 199.3H114.8ZM112.3 225.2L115.4 231.2H109.2ZM103.3 210.3L106.4 216.3H100.2ZM115.1 219.3L118.2 225.3H112.0ZM101.5 216.0L104.6 222.0H98.4ZM113.9 193.7L117.0 199.7H110.8ZM106.3 204.6L109.4 210.6H103.2ZM103.6 218.6L106.7 224.6H100.5ZM118.1 218.0L121.2 224.0H115.0ZM111.9 227.7L115.0 233.7H108.8ZM111.6 208.1L114.7 214.1H108.5ZM117.4 221.4L120.5 227.4H114.3ZM102.1 199.7L105.2 205.7H99.0ZM113.4 189.9L116.5 195.9H110.3ZM116.9 201.7L120.0 207.7H113.8ZM110.1 224.3L113.2 230.3H107.0ZM113.8 217.5L116.9 223.5H110.7ZM102.9 193.8L106.0 199.8H99.8ZM105.7 214.1L108.8 220.1H102.6ZM112.6 223.0L115.7 229.0H109.5ZM106.7 199.0L109.8 205.0H103.6ZM114.1 199.1L117.2 205.1H111.0ZM104.1 227.2L107.2 233.2H101.0ZM108.6 193.4L111.7 199.4H105.5ZM105.2 222.2L108.3 228.2H102.1ZM102.1 201.0L105.2 207.0H99.0ZM105.9 198.5L109.0 204.5H102.8ZM111.2 200.3L114.3 206.3H108.1ZM105.4 227.1L108.5 233.1H102.3ZM113.2 214.9L116.3 220.9H110.1ZM103.0 203.7L106.1 209.7H99.9ZM109.9 225.7L113.0 231.7H106.8ZM100.8 204.7L103.9 210.7H97.7ZM108.4 205.4L111.5 211.4H105.3ZM102.9 187.7L106.0 193.7H99.8ZM104.4 197.5L107.5 203.5H101.3ZM116.2 209.4L119.3 215.4H113.1ZM104.6 234.4L107.7 240.4H101.5ZM113.7 187.9L116.8 193.9H110.6ZM118.4 235.6L121.5 241.6H115.3ZM104.7 214.1L107.8 220.1H101.6ZM109.5 235.6L112.6 241.6H106.4ZM105.0 211.3L108.1 217.3H101.9ZM111.8 199.0L114.9 205.0H108.7ZM117.6 129.8L120.7 135.8H114.5ZM106.8 135.7L109.9 141.7H103.7ZM114.1 144.5L117.2 150.5H111.0ZM112.6 148.0L115.7 154.0H109.5ZM103.0 158.2L106.1 164.2H99.9ZM114.1 158.2L117.2 164.2H111.0ZM111.1 167.9L114.2 173.9H108.0ZM117.0 174.3L120.1 180.3H113.9ZM106.8 180.8L109.9 186.8H103.7ZM112.6 253.9L115.7 259.9H109.5ZM103.0 236.6L106.1 242.6H99.9ZM108.5 236.6L111.6 242.6H105.4ZM105.0 243.6L108.1 249.6H101.9ZM105.0 248.6L108.1 254.6H101.9Z"/>
<path fill="none" stroke="#9D3CDB" stroke-width="1.05" d="M253.6 233.1h6.4v6.4h-6.4ZM191.9 200.6h6.4v6.4h-6.4ZM123.0 231.9h6.4v6.4h-6.4ZM208.8 219.0h6.4v6.4h-6.4ZM176.0 205.2h6.4v6.4h-6.4ZM240.2 227.0h6.4v6.4h-6.4ZM220.5 202.8h6.4v6.4h-6.4ZM138.5 238.2h6.4v6.4h-6.4ZM155.1 219.9h6.4v6.4h-6.4ZM160.4 225.8h6.4v6.4h-6.4ZM117.3 246.2h6.4v6.4h-6.4ZM169.0 217.1h6.4v6.4h-6.4ZM128.2 219.1h6.4v6.4h-6.4ZM149.6 245.7h6.4v6.4h-6.4ZM131.4 204.7h6.4v6.4h-6.4ZM134.2 229.4h6.4v6.4h-6.4ZM157.9 200.2h6.4v6.4h-6.4ZM161.1 213.9h6.4v6.4h-6.4ZM271.6 226.9h6.4v6.4h-6.4ZM130.0 244.5h6.4v6.4h-6.4ZM239.2 217.3h6.4v6.4h-6.4ZM216.6 221.7h6.4v6.4h-6.4ZM231.0 244.9h6.4v6.4h-6.4ZM253.7 247.7h6.4v6.4h-6.4ZM155.7 227.4h6.4v6.4h-6.4ZM179.3 200.7h6.4v6.4h-6.4ZM159.0 211.9h6.4v6.4h-6.4ZM210.7 247.5h6.4v6.4h-6.4ZM248.6 242.8h6.4v6.4h-6.4ZM198.2 230.5h6.4v6.4h-6.4ZM142.4 250.8h6.4v6.4h-6.4ZM210.4 227.6h6.4v6.4h-6.4ZM199.3 215.5h6.4v6.4h-6.4ZM216.1 237.1h6.4v6.4h-6.4ZM131.3 217.5h6.4v6.4h-6.4ZM167.1 200.5h6.4v6.4h-6.4ZM251.3 206.8h6.4v6.4h-6.4ZM140.2 200.0h6.4v6.4h-6.4ZM161.2 217.6h6.4v6.4h-6.4ZM205.8 239.3h6.4v6.4h-6.4ZM271.7 251.0h6.4v6.4h-6.4ZM261.3 212.5h6.4v6.4h-6.4ZM202.5 222.7h6.4v6.4h-6.4ZM161.1 215.8h6.4v6.4h-6.4ZM170.1 245.9h6.4v6.4h-6.4ZM157.5 240.4h6.4v6.4h-6.4ZM144.8 236.7h6.4v6.4h-6.4ZM153.8 230.3h6.4v6.4h-6.4ZM249.6 216.5h6.4v6.4h-6.4ZM136.9 210.2h6.4v6.4h-6.4ZM126.8 213.8h6.4v6.4h-6.4ZM170.8 204.3h6.4v6.4h-6.4ZM172.1 196.4h6.4v6.4h-6.4ZM127.5 237.3h6.4v6.4h-6.4ZM143.6 224.8h6.4v6.4h-6.4ZM135.2 155.5h6.4v6.4h-6.4ZM147.5 173.9h6.4v6.4h-6.4ZM188.6 251.8h6.4v6.4h-6.4ZM177.6 241.8h6.4v6.4h-6.4ZM199.2 243.0h6.4v6.4h-6.4ZM206.6 244.3h6.4v6.4h-6.4ZM212.5 247.5h6.4v6.4h-6.4ZM216.8 242.2h6.4v6.4h-6.4ZM221.3 240.4h6.4v6.4h-6.4ZM231.0 232.4h6.4v6.4h-6.4ZM246.0 241.3h6.4v6.4h-6.4ZM252.2 213.4h6.4v6.4h-6.4ZM235.4 210.9h6.4v6.4h-6.4ZM118.2 243.5h6.4v6.4h-6.4Z"/>
<path d="M98 210.0C101.7 209.8 113.0 209.4 120 208.9C127.0 208.4 130.0 207.5 140 207.0C150.0 206.5 170.0 205.8 180 205.7C190.0 205.6 193.3 205.5 200 206.4C206.7 207.3 213.3 209.3 220 211.4C226.7 213.5 233.3 216.2 240 219.0C246.7 221.8 253.3 225.0 260 228.2C266.7 231.4 273.3 235.6 280 238.4C286.7 241.2 293.3 244.0 300 245.2C306.7 246.4 312.7 245.7 320 245.8C327.3 245.9 340.0 245.6 344 245.6" fill="none" stroke="#f08070" stroke-width="0.9" opacity="0.55"/>
<path d="M98 215.2C101.7 215.0 113.0 214.6 120 214.1C127.0 213.6 130.0 212.7 140 212.2C150.0 211.7 170.0 211.0 180 210.9C190.0 210.8 193.3 210.7 200 211.6C206.7 212.5 213.3 214.5 220 216.6C226.7 218.7 233.3 221.4 240 224.2C246.7 227.0 253.3 230.2 260 233.4C266.7 236.6 273.3 240.8 280 243.6C286.7 246.4 293.3 249.2 300 250.4C306.7 251.6 312.7 250.9 320 251.0C327.3 251.1 340.0 250.8 344 250.8" fill="none" stroke="#f08070" stroke-width="0.9" opacity="0.45"/>
<path d="M98 217.2C101.7 217.3 113.0 217.5 120 217.8C127.0 218.1 130.0 218.8 140 219.1C150.0 219.3 170.0 219.1 180 219.3C190.0 219.5 193.3 218.6 200 220.1C206.7 221.6 213.3 225.9 220 228.4C226.7 230.9 233.3 232.8 240 234.9C246.7 237.0 253.3 239.0 260 240.9C266.7 242.8 273.3 244.4 280 246.6C286.7 248.8 293.3 251.7 300 253.8C306.7 255.9 312.7 257.3 320 259.4C327.3 261.5 340.0 265.2 344 266.4" fill="none" stroke="#88e078" stroke-width="0.9" opacity="0.55"/>
<path d="M98 212.6C101.7 212.4 113.0 212.0 120 211.5C127.0 211.0 130.0 210.1 140 209.6C150.0 209.1 170.0 208.4 180 208.3C190.0 208.2 193.3 208.1 200 209.0C206.7 209.9 213.3 211.9 220 214.0C226.7 216.1 233.3 218.8 240 221.6C246.7 224.4 253.3 227.6 260 230.8C266.7 234.0 273.3 238.2 280 241.0C286.7 243.8 293.3 246.6 300 247.8C306.7 249.0 312.7 248.3 320 248.4C327.3 248.5 340.0 248.2 344 248.2" fill="none" stroke="#f28474" stroke-width="2.6"/>
<path d="M98 214.6C101.7 214.7 113.0 214.9 120 215.2C127.0 215.5 130.0 216.2 140 216.5C150.0 216.8 170.0 216.5 180 216.7C190.0 216.9 193.3 216.0 200 217.5C206.7 219.0 213.3 223.3 220 225.8C226.7 228.3 233.3 230.2 240 232.3C246.7 234.4 253.3 236.4 260 238.3C266.7 240.2 273.3 241.8 280 244.0C286.7 246.2 293.3 249.1 300 251.2C306.7 253.3 312.7 254.7 320 256.8C327.3 258.9 340.0 262.6 344 263.8" fill="none" stroke="#86e276" stroke-width="2.4"/>
<rect x="90.5" y="358.5" width="245" height="26" fill="#fff" stroke="#dedede" stroke-width="1"/>
<circle cx="98.6" cy="365.8" r="3" fill="none" stroke="#4a5b9c" stroke-width="1"/>
<text x="107.8" y="368.8" font-size="11" fill="#2a2a2a">HCP (897)</text>
<path d="M180.1 365.8h6.4M183.3 362.6v6.4" fill="none" stroke="#b34a3e" stroke-width="1"/>
<text x="192.2" y="368.8" font-size="11" fill="#2a2a2a">ADNI (290)</text>
<path d="M255.4 362.6l6.4 6.4M255.4 369.0l6.4 -6.4" fill="none" stroke="#0f6e66" stroke-width="1"/>
<text x="268.3" y="368.8" font-size="11" fill="#2a2a2a">HCP-A (688)</text>
<path d="M98.6 375.2L101.7 381.2H95.5Z" fill="none" stroke="#543005" stroke-width="1"/>
<text x="107.8" y="381.6" font-size="11" fill="#2a2a2a">HCP-D (178)</text>
<path d="M180.1 375.4h6.4v6.4h-6.4Z" fill="none" stroke="#9D3CDB" stroke-width="1"/>
<text x="192.2" y="381.6" font-size="11" fill="#2a2a2a">UCSF (85)</text>
<text x="565" y="55" font-size="11.37" font-weight="bold" text-anchor="middle" fill="#000">Correlation r=0.67 P value: &lt;0.01</text>
<rect x="422.5" y="61.5" width="285" height="287.5" fill="none" stroke="#b4b4b4" stroke-width="1"/>
<line x1="418" y1="324.3" x2="422.5" y2="324.3" stroke="#aaaaaa" stroke-width="1"/>
<text x="415" y="327.6" font-size="9.2" text-anchor="end" fill="#2a2a2a">0.008</text>
<line x1="418" y1="272.7" x2="422.5" y2="272.7" stroke="#aaaaaa" stroke-width="1"/>
<text x="415" y="276.0" font-size="9.2" text-anchor="end" fill="#2a2a2a">0.009</text>
<line x1="418" y1="221.1" x2="422.5" y2="221.1" stroke="#aaaaaa" stroke-width="1"/>
<text x="415" y="224.4" font-size="9.2" text-anchor="end" fill="#2a2a2a">0.010</text>
<line x1="418" y1="169.5" x2="422.5" y2="169.5" stroke="#aaaaaa" stroke-width="1"/>
<text x="415" y="172.8" font-size="9.2" text-anchor="end" fill="#2a2a2a">0.011</text>
<line x1="418" y1="117.9" x2="422.5" y2="117.9" stroke="#aaaaaa" stroke-width="1"/>
<text x="415" y="121.2" font-size="9.2" text-anchor="end" fill="#2a2a2a">0.012</text>
<line x1="418" y1="66.3" x2="422.5" y2="66.3" stroke="#aaaaaa" stroke-width="1"/>
<text x="415" y="69.6" font-size="9.2" text-anchor="end" fill="#2a2a2a">0.013</text>
<line x1="428.4" y1="349" x2="428.4" y2="354" stroke="#aaaaaa" stroke-width="1"/>
<text x="428.4" y="365.7" font-size="9.2" text-anchor="middle" fill="#2a2a2a">0.006</text>
<line x1="482.5" y1="349" x2="482.5" y2="354" stroke="#aaaaaa" stroke-width="1"/>
<text x="482.5" y="365.7" font-size="9.2" text-anchor="middle" fill="#2a2a2a">0.007</text>
<line x1="536.5" y1="349" x2="536.5" y2="354" stroke="#aaaaaa" stroke-width="1"/>
<text x="536.5" y="365.7" font-size="9.2" text-anchor="middle" fill="#2a2a2a">0.008</text>
<line x1="590.6" y1="349" x2="590.6" y2="354" stroke="#aaaaaa" stroke-width="1"/>
<text x="590.6" y="365.7" font-size="9.2" text-anchor="middle" fill="#2a2a2a">0.009</text>
<line x1="644.7" y1="349" x2="644.7" y2="354" stroke="#aaaaaa" stroke-width="1"/>
<text x="644.7" y="365.7" font-size="9.2" text-anchor="middle" fill="#2a2a2a">0.010</text>
<line x1="698.8" y1="349" x2="698.8" y2="354" stroke="#aaaaaa" stroke-width="1"/>
<text x="698.8" y="365.7" font-size="9.2" text-anchor="middle" fill="#2a2a2a">0.011</text>
<text x="565.3" y="383" font-size="10.2" text-anchor="middle" fill="#000">Observed</text>
<text transform="translate(378.5,205.3) rotate(-90)" font-size="10.2" text-anchor="middle" fill="#000">Predicted</text>
<g fill="none" stroke="#3448ac" stroke-width="1.1"><circle cx="624.2" cy="79.5" r="2.45"/><circle cx="544.8" cy="172.3" r="2.45"/><circle cx="554.5" cy="217.8" r="2.45"/><circle cx="637.8" cy="178.2" r="2.45"/><circle cx="698.0" cy="180.6" r="2.45"/><circle cx="595.4" cy="193.3" r="2.45"/><circle cx="599.2" cy="195.0" r="2.45"/><circle cx="681.9" cy="194.4" r="2.45"/><circle cx="592.7" cy="200.6" r="2.45"/><circle cx="621.9" cy="197.7" r="2.45"/><circle cx="613.5" cy="201.3" r="2.45"/><circle cx="608.3" cy="205.4" r="2.45"/><circle cx="636.7" cy="201.7" r="2.45"/><circle cx="651.7" cy="201.7" r="2.45"/><circle cx="670.4" cy="199.6" r="2.45"/><circle cx="675.2" cy="200.2" r="2.45"/><circle cx="629.4" cy="205.8" r="2.45"/><circle cx="574.6" cy="207.9" r="2.45"/><circle cx="691.3" cy="209.6" r="2.45"/><circle cx="562.9" cy="219.0" r="2.45"/><circle cx="572.1" cy="218.5" r="2.45"/><circle cx="569.0" cy="224.2" r="2.45"/><circle cx="564.8" cy="230.4" r="2.45"/><circle cx="582.9" cy="223.1" r="2.45"/><circle cx="585.4" cy="224.6" r="2.45"/><circle cx="593.8" cy="223.1" r="2.45"/><circle cx="576.7" cy="233.1" r="2.45"/><circle cx="581.2" cy="231.9" r="2.45"/><circle cx="614.6" cy="215.8" r="2.45"/><circle cx="613.5" cy="217.9" r="2.45"/><circle cx="612.7" cy="221.7" r="2.45"/><circle cx="621.5" cy="216.2" r="2.45"/><circle cx="622.1" cy="221.0" r="2.45"/><circle cx="628.8" cy="215.4" r="2.45"/><circle cx="629.4" cy="221.0" r="2.45"/><circle cx="647.5" cy="216.5" r="2.45"/><circle cx="646.5" cy="223.1" r="2.45"/><circle cx="651.2" cy="222.7" r="2.45"/><circle cx="649.6" cy="227.3" r="2.45"/><circle cx="665.8" cy="217.5" r="2.45"/><circle cx="664.8" cy="220.0" r="2.45"/><circle cx="700.0" cy="220.6" r="2.45"/><circle cx="702.7" cy="220.6" r="2.45"/><circle cx="607.5" cy="237.9" r="2.45"/><circle cx="615.8" cy="246.9" r="2.45"/><circle cx="594.8" cy="249.2" r="2.45"/><circle cx="589.2" cy="256.5" r="2.45"/><circle cx="589.8" cy="258.5" r="2.45"/><circle cx="597.5" cy="260.0" r="2.45"/><circle cx="593.3" cy="262.1" r="2.45"/><circle cx="597.1" cy="263.5" r="2.45"/><circle cx="590.8" cy="264.2" r="2.45"/><circle cx="635.4" cy="252.7" r="2.45"/><circle cx="630.2" cy="257.5" r="2.45"/><circle cx="636.5" cy="258.3" r="2.45"/><circle cx="627.7" cy="262.1" r="2.45"/><circle cx="624.6" cy="263.8" r="2.45"/><circle cx="636.0" cy="263.1" r="2.45"/><circle cx="621.9" cy="266.7" r="2.45"/><circle cx="616.2" cy="267.3" r="2.45"/><circle cx="637.1" cy="270.0" r="2.45"/><circle cx="650.6" cy="268.3" r="2.45"/><circle cx="662.5" cy="271.0" r="2.45"/><circle cx="645.0" cy="275.0" r="2.45"/><circle cx="629.8" cy="274.6" r="2.45"/><circle cx="613.5" cy="273.8" r="2.45"/><circle cx="620.8" cy="278.1" r="2.45"/><circle cx="606.2" cy="278.1" r="2.45"/><circle cx="584.0" cy="264.6" r="2.45"/><circle cx="579.2" cy="266.7" r="2.45"/><circle cx="586.5" cy="268.3" r="2.45"/><circle cx="574.6" cy="270.4" r="2.45"/><circle cx="570.0" cy="269.8" r="2.45"/><circle cx="565.6" cy="272.1" r="2.45"/><circle cx="563.1" cy="274.6" r="2.45"/><circle cx="561.0" cy="275.6" r="2.45"/><circle cx="582.9" cy="272.9" r="2.45"/><circle cx="585.0" cy="272.9" r="2.45"/><circle cx="583.3" cy="277.7" r="2.45"/><circle cx="563.1" cy="278.8" r="2.45"/><circle cx="561.0" cy="280.8" r="2.45"/><circle cx="564.2" cy="284.0" r="2.45"/><circle cx="567.3" cy="282.9" r="2.45"/><circle cx="593.8" cy="279.8" r="2.45"/><circle cx="598.5" cy="281.9" r="2.45"/><circle cx="597.1" cy="285.0" r="2.45"/><circle cx="580.2" cy="285.0" r="2.45"/><circle cx="585.0" cy="285.0" r="2.45"/><circle cx="590.6" cy="286.5" r="2.45"/><circle cx="597.5" cy="290.8" r="2.45"/><circle cx="571.9" cy="289.6" r="2.45"/><circle cx="576.7" cy="290.8" r="2.45"/><circle cx="580.2" cy="292.3" r="2.45"/><circle cx="561.0" cy="292.3" r="2.45"/><circle cx="562.1" cy="295.4" r="2.45"/><circle cx="582.5" cy="296.0" r="2.45"/><circle cx="572.9" cy="296.5" r="2.45"/><circle cx="575.6" cy="297.5" r="2.45"/><circle cx="567.9" cy="298.5" r="2.45"/><circle cx="572.5" cy="300.6" r="2.45"/><circle cx="561.0" cy="302.1" r="2.45"/><circle cx="567.3" cy="304.8" r="2.45"/><circle cx="570.4" cy="305.8" r="2.45"/><circle cx="590.2" cy="299.6" r="2.45"/><circle cx="596.5" cy="297.5" r="2.45"/><circle cx="599.6" cy="295.4" r="2.45"/><circle cx="598.5" cy="300.6" r="2.45"/><circle cx="610.0" cy="295.0" r="2.45"/><circle cx="614.2" cy="296.5" r="2.45"/><circle cx="631.9" cy="300.0" r="2.45"/><circle cx="642.7" cy="300.6" r="2.45"/><circle cx="597.5" cy="306.9" r="2.45"/><circle cx="567.3" cy="307.5" r="2.45"/><circle cx="507.1" cy="256.8" r="2.45"/><circle cx="485.1" cy="261.6" r="2.45"/><circle cx="529.8" cy="265.1" r="2.45"/><circle cx="538.2" cy="262.6" r="2.45"/><circle cx="541.5" cy="263.6" r="2.45"/><circle cx="545.0" cy="261.8" r="2.45"/><circle cx="553.8" cy="259.3" r="2.45"/><circle cx="548.9" cy="266.5" r="2.45"/><circle cx="526.1" cy="270.3" r="2.45"/><circle cx="531.2" cy="270.3" r="2.45"/><circle cx="523.0" cy="275.9" r="2.45"/><circle cx="529.1" cy="275.9" r="2.45"/><circle cx="516.5" cy="275.6" r="2.45"/><circle cx="504.4" cy="276.4" r="2.45"/><circle cx="504.4" cy="279.4" r="2.45"/><circle cx="518.5" cy="280.2" r="2.45"/><circle cx="516.5" cy="282.4" r="2.45"/><circle cx="521.8" cy="285.0" r="2.45"/><circle cx="526.4" cy="287.0" r="2.45"/><circle cx="531.2" cy="285.5" r="2.45"/><circle cx="528.6" cy="289.2" r="2.45"/><circle cx="511.2" cy="287.7" r="2.45"/><circle cx="504.7" cy="291.5" r="2.45"/><circle cx="491.5" cy="292.3" r="2.45"/><circle cx="551.4" cy="271.8" r="2.45"/><circle cx="555.5" cy="271.5" r="2.45"/><circle cx="555.5" cy="276.1" r="2.45"/><circle cx="567.3" cy="269.5" r="2.45"/><circle cx="558.9" cy="280.2" r="2.45"/><circle cx="559.7" cy="284.0" r="2.45"/><circle cx="549.8" cy="285.2" r="2.45"/><circle cx="550.6" cy="288.5" r="2.45"/><circle cx="543.0" cy="287.4" r="2.45"/><circle cx="541.2" cy="287.7" r="2.45"/><circle cx="552.9" cy="291.2" r="2.45"/><circle cx="556.7" cy="288.5" r="2.45"/><circle cx="556.7" cy="293.8" r="2.45"/><circle cx="545.3" cy="293.8" r="2.45"/><circle cx="537.0" cy="293.8" r="2.45"/><circle cx="530.2" cy="294.2" r="2.45"/><circle cx="521.8" cy="294.5" r="2.45"/><circle cx="512.7" cy="292.3" r="2.45"/><circle cx="499.1" cy="295.3" r="2.45"/><circle cx="517.3" cy="295.3" r="2.45"/><circle cx="443.2" cy="341.1" r="2.45"/><circle cx="472.9" cy="329.6" r="2.45"/><circle cx="479.6" cy="323.5" r="2.45"/><circle cx="486.1" cy="322.1" r="2.45"/><circle cx="485.1" cy="338.3" r="2.45"/><circle cx="472.1" cy="311.8" r="2.45"/><circle cx="478.0" cy="312.8" r="2.45"/><circle cx="483.0" cy="309.4" r="2.45"/><circle cx="488.7" cy="312.8" r="2.45"/><circle cx="489.7" cy="309.4" r="2.45"/><circle cx="489.7" cy="304.3" r="2.45"/><circle cx="493.1" cy="307.8" r="2.45"/><circle cx="490.7" cy="297.3" r="2.45"/><circle cx="490.3" cy="292.6" r="2.45"/><circle cx="492.3" cy="299.9" r="2.45"/><circle cx="477.6" cy="296.9" r="2.45"/><circle cx="498.4" cy="296.3" r="2.45"/><circle cx="498.8" cy="305.4" r="2.45"/><circle cx="509.4" cy="287.7" r="2.45"/><circle cx="501.4" cy="294.5" r="2.45"/><circle cx="491.6" cy="298.1" r="2.45"/><circle cx="492.5" cy="303.9" r="2.45"/><circle cx="499.9" cy="303.9" r="2.45"/><circle cx="502.3" cy="302.2" r="2.45"/><circle cx="506.4" cy="300.6" r="2.45"/><circle cx="509.4" cy="297.3" r="2.45"/><circle cx="515.5" cy="299.8" r="2.45"/><circle cx="517.1" cy="301.4" r="2.45"/><circle cx="524.2" cy="295.7" r="2.45"/><circle cx="527.0" cy="304.7" r="2.45"/><circle cx="531.0" cy="297.3" r="2.45"/><circle cx="533.5" cy="300.6" r="2.45"/><circle cx="537.6" cy="294.9" r="2.45"/><circle cx="540.9" cy="301.4" r="2.45"/><circle cx="544.2" cy="295.7" r="2.45"/><circle cx="548.3" cy="301.4" r="2.45"/><circle cx="549.9" cy="303.9" r="2.45"/><circle cx="551.6" cy="308.8" r="2.45"/><circle cx="553.2" cy="295.7" r="2.45"/><circle cx="552.4" cy="289.9" r="2.45"/><circle cx="555.7" cy="287.5" r="2.45"/><circle cx="560.6" cy="294.9" r="2.45"/><circle cx="559.8" cy="303.1" r="2.45"/><circle cx="567.2" cy="299.8" r="2.45"/><circle cx="567.2" cy="306.3" r="2.45"/><circle cx="507.2" cy="312.1" r="2.45"/><circle cx="506.4" cy="316.2" r="2.45"/><circle cx="508.1" cy="320.3" r="2.45"/><circle cx="513.0" cy="321.9" r="2.45"/><circle cx="510.5" cy="324.4" r="2.45"/><circle cx="518.7" cy="309.3" r="2.45"/><circle cx="515.9" cy="314.6" r="2.45"/><circle cx="523.7" cy="313.7" r="2.45"/><circle cx="526.9" cy="312.9" r="2.45"/><circle cx="529.4" cy="316.2" r="2.45"/><circle cx="530.2" cy="320.3" r="2.45"/><circle cx="528.6" cy="322.4" r="2.45"/><circle cx="536.0" cy="324.4" r="2.45"/><circle cx="538.4" cy="314.6" r="2.45"/><circle cx="522.5" cy="327.4" r="2.45"/><circle cx="523.7" cy="333.4" r="2.45"/><circle cx="528.6" cy="331.8" r="2.45"/><circle cx="527.0" cy="337.5" r="2.45"/><circle cx="531.0" cy="338.4" r="2.45"/><circle cx="529.4" cy="334.3" r="2.45"/><circle cx="505.6" cy="331.8" r="2.45"/><circle cx="502.8" cy="343.8" r="2.45"/><circle cx="549.9" cy="332.6" r="2.45"/><circle cx="555.4" cy="339.2" r="2.45"/><circle cx="555.4" cy="314.6" r="2.45"/><circle cx="563.9" cy="331.0" r="2.45"/><circle cx="563.9" cy="335.1" r="2.45"/><circle cx="569.6" cy="323.6" r="2.45"/><circle cx="571.7" cy="305.2" r="2.45"/><circle cx="574.7" cy="300.6" r="2.45"/><circle cx="561.1" cy="299.1" r="2.45"/><circle cx="571.7" cy="295.3" r="2.45"/><circle cx="577.7" cy="293.0" r="2.45"/><circle cx="581.5" cy="292.3" r="2.45"/><circle cx="555.8" cy="304.4" r="2.45"/></g>
</svg>
</body></html>
